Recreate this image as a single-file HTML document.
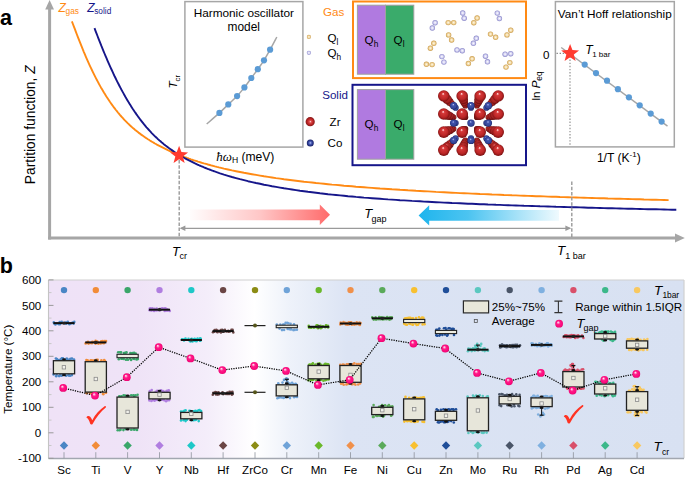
<!DOCTYPE html>
<html><head><meta charset="utf-8"><style>
html,body{margin:0;padding:0;background:#fff;width:685px;height:478px;overflow:hidden}
svg{display:block}
text{font-family:"Liberation Sans", sans-serif}
</style></head><body>
<svg width="685" height="478" viewBox="0 0 685 478" font-family='"Liberation Sans", sans-serif'>
<defs>
<radialGradient id="gRedC" cx="0.5" cy="0.5" r="0.5" fx="0.52" fy="0.5">
  <stop offset="0" stop-color="#ffe4e4"/><stop offset="0.22" stop-color="#e05252"/><stop offset="0.55" stop-color="#c42a2a"/><stop offset="1" stop-color="#861616"/>
</radialGradient>
<radialGradient id="gBlueC" cx="0.5" cy="0.5" r="0.5" fx="0.5" fy="0.5">
  <stop offset="0" stop-color="#c0ccff"/><stop offset="0.3" stop-color="#5a6cc0"/><stop offset="0.65" stop-color="#2c3c94"/><stop offset="1" stop-color="#1a2266"/>
</radialGradient>
<radialGradient id="gPink" cx="0.5" cy="0.5" r="0.55" fx="0.36" fy="0.3">
  <stop offset="0" stop-color="#ffffff"/><stop offset="0.14" stop-color="#ffb2d6"/><stop offset="0.4" stop-color="#ff1c8a"/><stop offset="0.8" stop-color="#fa087a"/><stop offset="1" stop-color="#dc006a"/>
</radialGradient>
<radialGradient id="gRed" cx="0.5" cy="0.5" r="0.55" fx="0.44" fy="0.3">
  <stop offset="0" stop-color="#ffffff"/><stop offset="0.1" stop-color="#f4a0a0"/><stop offset="0.22" stop-color="#d43838"/><stop offset="0.65" stop-color="#bc2626"/><stop offset="1" stop-color="#6a0c0c"/>
</radialGradient>
<radialGradient id="gRedD" cx="0.5" cy="0.5" r="0.55" fx="0.44" fy="0.3">
  <stop offset="0" stop-color="#e07070"/><stop offset="0.3" stop-color="#b82a2a"/><stop offset="0.7" stop-color="#a02020"/><stop offset="1" stop-color="#5a0a0a"/>
</radialGradient>
<radialGradient id="gBlue" cx="0.5" cy="0.5" r="0.55" fx="0.44" fy="0.32">
  <stop offset="0" stop-color="#f0f4ff"/><stop offset="0.12" stop-color="#8090d8"/><stop offset="0.3" stop-color="#4052a8"/><stop offset="0.7" stop-color="#34469c"/><stop offset="1" stop-color="#161e56"/>
</radialGradient>
<radialGradient id="gTan" cx="0.5" cy="0.5" r="0.5">
  <stop offset="0" stop-color="#fffbef"/><stop offset="0.55" stop-color="#f0d49a"/><stop offset="1" stop-color="#c99a4a"/>
</radialGradient>
<radialGradient id="gLav" cx="0.5" cy="0.5" r="0.5">
  <stop offset="0" stop-color="#ffffff"/><stop offset="0.55" stop-color="#cfcdf0"/><stop offset="1" stop-color="#8684c6"/>
</radialGradient>
<linearGradient id="gArrR" x1="190" y1="0" x2="330" y2="0" gradientUnits="userSpaceOnUse">
  <stop offset="0" stop-color="#ff6b6b" stop-opacity="0.02"/><stop offset="0.5" stop-color="#ff6b6b" stop-opacity="0.38"/><stop offset="1" stop-color="#ff6b6b"/>
</linearGradient>
<linearGradient id="gArrB" x1="419" y1="0" x2="559" y2="0" gradientUnits="userSpaceOnUse">
  <stop offset="0" stop-color="#1fb5ed"/><stop offset="0.35" stop-color="#1fb5ed" stop-opacity="0.8"/><stop offset="0.7" stop-color="#1fb5ed" stop-opacity="0.4"/><stop offset="1" stop-color="#1fb5ed" stop-opacity="0.07"/>
</linearGradient>
<linearGradient id="gBg" x1="48" y1="0" x2="684" y2="0" gradientUnits="userSpaceOnUse">
  <stop offset="0" stop-color="#efe2f7"/>
  <stop offset="0.14" stop-color="#efe3f7"/>
  <stop offset="0.25" stop-color="#f4edfa"/>
  <stop offset="0.325" stop-color="#ffffff"/>
  <stop offset="0.38" stop-color="#eef2fa"/>
  <stop offset="0.47" stop-color="#dce4f4"/>
  <stop offset="1" stop-color="#d8e1f2"/>
</linearGradient>
</defs>
<text x="0" y="25.2" font-size="21.5" font-weight="bold" fill="#000">a</text>
<line x1="49.6" y1="239.5" x2="49.6" y2="8" stroke="#a6a6a6" stroke-width="3"/>
<polygon points="45.2,9.5 54,9.5 49.6,0" fill="#a6a6a6"/>
<line x1="48.1" y1="238" x2="676" y2="238" stroke="#a6a6a6" stroke-width="3"/>
<polygon points="675,233.4 675,242.6 684.8,238" fill="#a6a6a6"/>
<text transform="translate(35,124.8) rotate(-90)" text-anchor="middle" font-size="13.8" fill="#000">Partition function, <tspan font-style="italic">Z</tspan></text>
<path d="M71.9,21.3 L72.9,24.0 L73.9,26.6 L74.9,29.2 L75.9,31.9 L76.9,34.5 L77.9,37.1 L78.9,39.7 L79.9,42.2 L80.9,44.7 L81.9,47.2 L82.9,49.6 L83.9,52.1 L84.9,54.4 L85.9,56.8 L86.9,59.1 L87.9,61.4 L88.9,63.6 L89.9,65.8 L90.9,67.9 L91.9,70.0 L92.9,72.1 L93.9,74.2 L94.9,76.2 L95.9,78.1 L96.9,80.0 L97.9,81.9 L98.9,83.8 L99.9,85.6 L100.9,87.4 L101.9,89.1 L102.9,90.8 L103.9,92.5 L104.9,94.1 L105.9,95.7 L106.9,97.3 L107.9,98.8 L108.9,100.3 L109.9,101.8 L110.9,103.2 L111.9,104.6 L112.9,106.0 L113.9,107.4 L114.9,108.7 L115.9,110.0 L116.9,111.2 L117.9,112.5 L118.9,113.7 L119.9,114.9 L120.9,116.0 L121.9,117.1 L122.9,118.2 L123.9,119.3 L124.9,120.4 L125.9,121.4 L126.9,122.4 L127.9,123.4 L128.9,124.3 L129.9,125.3 L130.9,126.2 L131.9,127.1 L132.9,128.0 L133.9,128.8 L134.9,129.7 L135.9,130.5 L136.9,131.3 L137.9,132.1 L138.9,132.9 L139.9,133.6 L140.9,134.4 L141.9,135.1 L142.9,135.8 L143.9,136.5 L144.9,137.2 L145.9,137.9 L146.9,138.5 L147.9,139.2 L148.9,139.8 L149.9,140.5 L150.9,141.1 L151.9,141.7 L152.9,142.3 L153.9,142.9 L154.9,143.5 L155.9,144.0 L156.9,144.6 L157.9,145.1 L158.9,145.7 L159.9,146.2 L160.9,146.7 L161.9,147.2 L162.9,147.7 L163.9,148.2 L164.9,148.7 L165.9,149.2 L166.9,149.7 L167.9,150.2 L168.9,150.6 L169.9,151.1 L170.9,151.5 L171.9,152.0 L172.9,152.4 L173.9,152.8 L174.9,153.3 L175.9,153.7 L176.9,154.1 L177.9,154.5 L178.9,154.9 L179.9,155.3 L180.9,155.7 L181.9,156.0 L182.9,156.4 L183.9,156.8 L184.9,157.2 L185.9,157.5 L186.9,157.9 L187.9,158.2 L188.9,158.6 L189.9,158.9 L190.9,159.3 L191.9,159.6 L192.9,160.0 L193.9,160.3 L194.9,160.6 L195.9,160.9 L196.9,161.2 L197.9,161.6 L198.9,161.9 L199.9,162.2 L200.9,162.5 L201.9,162.8 L202.9,163.1 L203.9,163.4 L204.9,163.6 L205.9,163.9 L206.9,164.2 L207.9,164.5 L208.9,164.8 L209.9,165.0 L210.9,165.3 L211.9,165.6 L212.9,165.8 L213.9,166.1 L214.9,166.4 L215.9,166.6 L216.9,166.9 L217.9,167.1 L218.9,167.4 L219.9,167.6 L220.0,167.6 L224.0,168.6 L228.0,169.5 L232.0,170.4 L236.0,171.2 L240.0,172.0 L244.0,172.8 L248.0,173.5 L252.0,174.2 L256.0,174.9 L260.0,175.6 L264.0,176.3 L268.0,176.9 L272.0,177.5 L276.0,178.1 L280.0,178.6 L284.0,179.2 L288.0,179.7 L292.0,180.2 L296.0,180.7 L300.0,181.2 L304.0,181.7 L308.0,182.1 L312.0,182.5 L316.0,183.0 L320.0,183.4 L324.0,183.8 L328.0,184.2 L332.0,184.6 L336.0,184.9 L340.0,185.3 L344.0,185.7 L348.0,186.0 L352.0,186.3 L356.0,186.7 L360.0,187.0 L364.0,187.3 L368.0,187.6 L372.0,187.9 L376.0,188.2 L380.0,188.5 L384.0,188.7 L388.0,189.0 L392.0,189.3 L396.0,189.5 L400.0,189.8 L404.0,190.0 L408.0,190.3 L412.0,190.5 L416.0,190.8 L420.0,191.0 L424.0,191.2 L428.0,191.4 L432.0,191.6 L436.0,191.9 L440.0,192.1 L444.0,192.3 L448.0,192.5 L452.0,192.7 L456.0,192.9 L460.0,193.1 L464.0,193.2 L468.0,193.4 L472.0,193.6 L476.0,193.8 L480.0,194.0 L484.0,194.1 L488.0,194.3 L492.0,194.5 L496.0,194.6 L500.0,194.8 L504.0,195.0 L508.0,195.1 L512.0,195.3 L516.0,195.4 L520.0,195.6 L524.0,195.7 L528.0,195.9 L532.0,196.0 L536.0,196.2 L540.0,196.3 L544.0,196.4 L548.0,196.6 L552.0,196.7 L556.0,196.8 L560.0,197.0 L564.0,197.1 L568.0,197.2 L572.0,197.4 L576.0,197.5 L580.0,197.6 L584.0,197.7 L588.0,197.9 L592.0,198.0 L596.0,198.1 L600.0,198.2 L604.0,198.3 L608.0,198.5 L612.0,198.6 L616.0,198.7 L620.0,198.8 L624.0,198.9 L628.0,199.0 L632.0,199.1 L636.0,199.2 L640.0,199.3 L644.0,199.5 L648.0,199.6 L652.0,199.7 L656.0,199.8 L660.0,199.9 L664.0,200.0 L668.0,200.1 L668.6,200.1" fill="none" stroke="#ff8a14" stroke-width="1.9" stroke-linejoin="round"/>
<path d="M94.5,28.1 L95.5,30.8 L96.5,33.4 L97.5,36.0 L98.5,38.6 L99.5,41.1 L100.5,43.6 L101.5,46.2 L102.5,48.6 L103.5,51.1 L104.5,53.5 L105.5,55.9 L106.5,58.2 L107.5,60.6 L108.5,62.9 L109.5,65.1 L110.5,67.3 L111.5,69.5 L112.5,71.7 L113.5,73.8 L114.5,76.0 L115.5,78.0 L116.5,80.1 L117.5,82.1 L118.5,84.0 L119.5,86.0 L120.5,87.9 L121.5,89.8 L122.5,91.6 L123.5,93.4 L124.5,95.2 L125.5,97.0 L126.5,98.7 L127.5,100.4 L128.5,102.1 L129.5,103.7 L130.5,105.3 L131.5,106.9 L132.5,108.5 L133.5,110.0 L134.5,111.5 L135.5,112.9 L136.5,114.4 L137.5,115.8 L138.5,117.2 L139.5,118.5 L140.5,119.8 L141.5,121.1 L142.5,122.4 L143.5,123.7 L144.5,124.9 L145.5,126.1 L146.5,127.3 L147.5,128.4 L148.5,129.5 L149.5,130.6 L150.5,131.7 L151.5,132.8 L152.5,133.8 L153.5,134.8 L154.5,135.8 L155.5,136.8 L156.5,137.7 L157.5,138.7 L158.5,139.6 L159.5,140.5 L160.5,141.3 L161.5,142.2 L162.5,143.0 L163.5,143.9 L164.5,144.7 L165.5,145.5 L166.5,146.2 L167.5,147.0 L168.5,147.8 L169.5,148.5 L170.5,149.2 L171.5,149.9 L172.5,150.6 L173.5,151.3 L174.5,152.0 L175.5,152.6 L176.5,153.3 L177.5,153.9 L178.5,154.5 L179.5,155.1 L180.5,155.7 L181.5,156.3 L182.5,156.9 L183.5,157.5 L184.5,158.0 L185.5,158.6 L186.5,159.1 L187.5,159.7 L188.5,160.2 L189.5,160.7 L190.5,161.2 L191.5,161.7 L192.5,162.2 L193.5,162.7 L194.5,163.2 L195.5,163.6 L196.5,164.1 L197.5,164.6 L198.5,165.0 L199.5,165.5 L200.5,165.9 L201.5,166.3 L202.5,166.7 L203.5,167.2 L204.5,167.6 L205.5,168.0 L206.5,168.4 L207.5,168.8 L208.5,169.2 L209.5,169.5 L210.5,169.9 L211.5,170.3 L212.5,170.7 L213.5,171.0 L214.5,171.4 L215.5,171.7 L216.5,172.1 L217.5,172.4 L218.5,172.8 L219.5,173.1 L220.0,173.3 L224.0,174.6 L228.0,175.8 L232.0,177.0 L236.0,178.1 L240.0,179.2 L244.0,180.2 L248.0,181.2 L252.0,182.1 L256.0,183.0 L260.0,183.8 L264.0,184.7 L268.0,185.4 L272.0,186.2 L276.0,186.9 L280.0,187.6 L284.0,188.3 L288.0,188.9 L292.0,189.5 L296.0,190.1 L300.0,190.7 L304.0,191.2 L308.0,191.8 L312.0,192.3 L316.0,192.8 L320.0,193.3 L324.0,193.7 L328.0,194.2 L332.0,194.6 L336.0,195.0 L340.0,195.4 L344.0,195.8 L348.0,196.2 L352.0,196.5 L356.0,196.9 L360.0,197.2 L364.0,197.6 L368.0,197.9 L372.0,198.2 L376.0,198.5 L380.0,198.8 L384.0,199.1 L388.0,199.4 L392.0,199.6 L396.0,199.9 L400.0,200.2 L404.0,200.4 L408.0,200.6 L412.0,200.9 L416.0,201.1 L420.0,201.3 L424.0,201.6 L428.0,201.8 L432.0,202.0 L436.0,202.2 L440.0,202.4 L444.0,202.6 L448.0,202.8 L452.0,203.0 L456.0,203.1 L460.0,203.3 L464.0,203.5 L468.0,203.7 L472.0,203.8 L476.0,204.0 L480.0,204.2 L484.0,204.3 L488.0,204.5 L492.0,204.6 L496.0,204.8 L500.0,204.9 L504.0,205.1 L508.0,205.2 L512.0,205.4 L516.0,205.5 L520.0,205.6 L524.0,205.8 L528.0,205.9 L532.0,206.0 L536.0,206.1 L540.0,206.3 L544.0,206.4 L548.0,206.5 L552.0,206.6 L556.0,206.8 L560.0,206.9 L564.0,207.0 L568.0,207.1 L572.0,207.2 L576.0,207.3 L580.0,207.4 L584.0,207.5 L588.0,207.7 L592.0,207.8 L596.0,207.9 L600.0,208.0 L604.0,208.1 L608.0,208.2 L612.0,208.3 L616.0,208.4 L620.0,208.5 L624.0,208.6 L628.0,208.7 L632.0,208.8 L636.0,208.9 L640.0,209.0 L644.0,209.1 L648.0,209.2 L652.0,209.3 L656.0,209.3 L660.0,209.4 L664.0,209.5 L668.0,209.6 L672.0,209.7 L676.0,209.8 L676.3,209.8" fill="none" stroke="#16168a" stroke-width="1.9" stroke-linejoin="round"/>
<text x="58.6" y="11.8" font-size="12" font-style="italic" fill="#ff8a14">Z</text><text x="65.6" y="14.4" font-size="8.3" fill="#ff8a14">gas</text>
<text x="87.2" y="11.8" font-size="12" font-style="italic" fill="#16168a">Z</text><text x="94.2" y="14.4" font-size="8.3" fill="#16168a">solid</text>
<line x1="179.2" y1="160" x2="179.2" y2="237" stroke="#999" stroke-width="1.4" stroke-dasharray="3.5,1.7"/>
<line x1="571.8" y1="181.5" x2="571.8" y2="237" stroke="#999" stroke-width="1.4" stroke-dasharray="3.5,1.7"/>
<polygon points="179.10,145.85 181.43,152.09 188.09,152.38 182.87,156.53 184.66,162.95 179.10,159.27 173.54,162.95 175.33,156.53 170.11,152.38 176.77,152.09" fill="#ff3b30"/>
<polygon points="190,209.4 319.8,209.4 319.8,204.5 330,214.8 319.8,225 319.8,220.2 190,220.2" fill="url(#gArrR)"/>
<polygon points="559,210 429.2,210 429.2,205.2 418.6,215.4 429.2,225.6 429.2,220.8 559,220.8" fill="url(#gArrB)"/>
<line x1="181" y1="228.3" x2="570" y2="228.3" stroke="#9a9a9a" stroke-width="1.3"/>
<polygon points="179.6,228.3 185.4,225.5 185.4,231.1" fill="#9a9a9a"/>
<polygon points="571.2,228.3 565.4,225.5 565.4,231.1" fill="#9a9a9a"/>
<text x="364.3" y="218.2" font-size="13" font-style="italic">T</text><text x="371.6" y="221.6" font-size="9">gap</text>
<text x="172" y="255.7" font-size="13" font-style="italic">T</text><text x="179.4" y="259.4" font-size="9">cr</text>
<text x="556.9" y="255.3" font-size="13.4" font-style="italic">T</text><text x="565.2" y="259" font-size="9">1 bar</text>
<rect x="184.9" y="1.6" width="118" height="145.5" fill="#fff" stroke="#a6a6a6" stroke-width="1.5"/>
<text x="243.8" y="17.4" font-size="11.8" text-anchor="middle">Harmonic oscillator</text>
<text x="243.8" y="31.2" font-size="11.9" text-anchor="middle">model</text>
<path d="M206.70,124.00 C208.82,122.15 215.80,116.17 219.40,112.90 C223.00,109.63 225.35,107.20 228.30,104.40 C231.25,101.60 234.42,98.93 237.10,96.10 C239.78,93.27 242.03,90.42 244.40,87.40 C246.77,84.38 249.07,81.03 251.30,78.00 C253.53,74.97 255.68,72.15 257.80,69.20 C259.92,66.25 261.95,63.55 264.00,60.30 C266.05,57.05 267.97,53.58 270.10,49.70 C272.23,45.82 275.68,39.12 276.80,37.00" fill="none" stroke="#a6a6a6" stroke-width="1.5"/>
<circle cx="219.4" cy="112.9" r="3.1" fill="#5b9bd5"/>
<circle cx="228.3" cy="104.4" r="3.1" fill="#5b9bd5"/>
<circle cx="237.1" cy="96.1" r="3.1" fill="#5b9bd5"/>
<circle cx="244.4" cy="87.4" r="3.1" fill="#5b9bd5"/>
<circle cx="251.3" cy="78" r="3.1" fill="#5b9bd5"/>
<circle cx="257.8" cy="69.2" r="3.1" fill="#5b9bd5"/>
<circle cx="264" cy="60.3" r="3.1" fill="#5b9bd5"/>
<circle cx="270.1" cy="49.7" r="3.1" fill="#5b9bd5"/>
<text transform="translate(176.5,88.6) rotate(-90)" font-size="11.8"><tspan font-style="italic">T</tspan><tspan font-size="7.8" dy="3.3">cr</tspan></text>
<text x="216.2" y="160.5" font-size="12.1"><tspan font-family="Liberation Serif" font-style="italic" font-size="13">ħω</tspan><tspan font-size="8.6" dy="2.8">H</tspan><tspan dy="-2.8"> (meV)</tspan></text>
<text x="323.1" y="15.9" font-size="11.6" fill="#ff8a14">Gas</text>
<circle cx="308.9" cy="36.9" r="2.1" fill="url(#gTan)"/>
<circle cx="308.9" cy="52.8" r="2.1" fill="url(#gLav)"/>
<text x="327.4" y="41.9" font-size="11.6">Q<tspan font-size="8.3" dy="2.6">l</tspan></text>
<text x="327.4" y="57" font-size="11.6">Q<tspan font-size="8.3" dy="2.6">h</tspan></text>
<text x="322.2" y="99" font-size="11.6" fill="#16168a">Solid</text>
<circle cx="310.2" cy="121.7" r="4.6" fill="url(#gRedC)"/>
<circle cx="310.3" cy="142.9" r="3.5" fill="url(#gBlueC)"/>
<text x="329.6" y="125.7" font-size="11.6">Zr</text>
<text x="327.6" y="147" font-size="11.6">Co</text>
<rect x="353" y="1.5" width="173" height="76.6" fill="#fff" stroke="#ff8a14" stroke-width="2"/>
<rect x="357.4" y="5.2" width="28.1" height="69.0" fill="#b07ae0" stroke="#a0a0a0" stroke-width="1"/>
<rect x="385.5" y="5.2" width="28.3" height="69.0" fill="#3aab6b" stroke="#a0a0a0" stroke-width="1"/>
<text x="364.6" y="44.2" font-size="11.6">Q<tspan font-size="8.3" dy="2.6">h</tspan></text>
<text x="393.6" y="44.2" font-size="11.6">Q<tspan font-size="8.3" dy="2.6">l</tspan></text>
<circle cx="435.1" cy="22.7" r="2.7" fill="url(#gLav)"/>
<circle cx="432.3" cy="28" r="2.7" fill="url(#gLav)"/>
<circle cx="462.7" cy="13" r="2.7" fill="url(#gLav)"/>
<circle cx="464.2" cy="18.2" r="2.7" fill="url(#gLav)"/>
<circle cx="497.3" cy="13.1" r="2.7" fill="url(#gLav)"/>
<circle cx="499.4" cy="18.5" r="2.7" fill="url(#gLav)"/>
<circle cx="476.3" cy="38.3" r="2.7" fill="url(#gLav)"/>
<circle cx="473.4" cy="43.3" r="2.7" fill="url(#gLav)"/>
<circle cx="457" cy="49.9" r="2.7" fill="url(#gLav)"/>
<circle cx="462.3" cy="50.7" r="2.7" fill="url(#gLav)"/>
<circle cx="441.9" cy="56.6" r="2.7" fill="url(#gLav)"/>
<circle cx="443.9" cy="62.1" r="2.7" fill="url(#gLav)"/>
<circle cx="485.5" cy="56.2" r="2.7" fill="url(#gLav)"/>
<circle cx="487.5" cy="61.8" r="2.7" fill="url(#gLav)"/>
<circle cx="505.1" cy="54.2" r="2.7" fill="url(#gLav)"/>
<circle cx="510.7" cy="53.7" r="2.7" fill="url(#gLav)"/>
<circle cx="448.2" cy="22.6" r="2.7" fill="url(#gTan)"/>
<circle cx="453.7" cy="22.6" r="2.7" fill="url(#gTan)"/>
<circle cx="477.1" cy="18" r="2.7" fill="url(#gTan)"/>
<circle cx="473.8" cy="22.7" r="2.7" fill="url(#gTan)"/>
<circle cx="448.6" cy="34.9" r="2.7" fill="url(#gTan)"/>
<circle cx="451.6" cy="40" r="2.7" fill="url(#gTan)"/>
<circle cx="433.8" cy="43.3" r="2.7" fill="url(#gTan)"/>
<circle cx="430.4" cy="48.2" r="2.7" fill="url(#gTan)"/>
<circle cx="490.5" cy="34.1" r="2.7" fill="url(#gTan)"/>
<circle cx="495.6" cy="37.3" r="2.7" fill="url(#gTan)"/>
<circle cx="510.7" cy="30.2" r="2.7" fill="url(#gTan)"/>
<circle cx="507" cy="34.9" r="2.7" fill="url(#gTan)"/>
<circle cx="426.4" cy="64.3" r="2.7" fill="url(#gTan)"/>
<circle cx="432.1" cy="64.6" r="2.7" fill="url(#gTan)"/>
<circle cx="472.1" cy="58.8" r="2.7" fill="url(#gTan)"/>
<circle cx="468.4" cy="63.5" r="2.7" fill="url(#gTan)"/>
<circle cx="509.8" cy="62.6" r="2.7" fill="url(#gTan)"/>
<circle cx="506" cy="67.1" r="2.7" fill="url(#gTan)"/>
<rect x="352.5" y="84.8" width="173.5" height="80.4" fill="#fff" stroke="#16168a" stroke-width="2"/>
<rect x="357.4" y="89.6" width="28.1" height="69.6" fill="#b07ae0" stroke="#a0a0a0" stroke-width="1"/>
<rect x="385.5" y="89.6" width="28.3" height="69.6" fill="#3aab6b" stroke="#a0a0a0" stroke-width="1"/>
<text x="364.6" y="127.9" font-size="11.6">Q<tspan font-size="8.3" dy="2.6">h</tspan></text>
<text x="393.6" y="127.9" font-size="11.6">Q<tspan font-size="8.3" dy="2.6">l</tspan></text>
<circle cx="453.56" cy="105.73" r="2.85" fill="url(#gRedD)"/>
<circle cx="465.36" cy="105.73" r="2.85" fill="url(#gRedD)"/>
<circle cx="476.90" cy="105.73" r="2.85" fill="url(#gRedD)"/>
<circle cx="488.44" cy="105.73" r="2.85" fill="url(#gRedD)"/>
<circle cx="453.56" cy="117.27" r="2.85" fill="url(#gRedD)"/>
<circle cx="465.36" cy="117.27" r="2.85" fill="url(#gRedD)"/>
<circle cx="476.90" cy="117.27" r="2.85" fill="url(#gRedD)"/>
<circle cx="488.44" cy="117.27" r="2.85" fill="url(#gRedD)"/>
<circle cx="453.56" cy="128.87" r="2.85" fill="url(#gRedD)"/>
<circle cx="465.36" cy="128.87" r="2.85" fill="url(#gRedD)"/>
<circle cx="476.90" cy="128.87" r="2.85" fill="url(#gRedD)"/>
<circle cx="488.44" cy="128.87" r="2.85" fill="url(#gRedD)"/>
<circle cx="453.56" cy="140.41" r="2.85" fill="url(#gRedD)"/>
<circle cx="465.36" cy="140.41" r="2.85" fill="url(#gRedD)"/>
<circle cx="476.90" cy="140.41" r="2.85" fill="url(#gRedD)"/>
<circle cx="488.44" cy="140.41" r="2.85" fill="url(#gRedD)"/>
<circle cx="451.85" cy="104.02" r="3.31" fill="url(#gRedD)"/>
<circle cx="464.80" cy="104.02" r="3.31" fill="url(#gRedD)"/>
<circle cx="477.48" cy="104.02" r="3.31" fill="url(#gRedD)"/>
<circle cx="490.15" cy="104.02" r="3.31" fill="url(#gRedD)"/>
<circle cx="451.85" cy="116.69" r="3.31" fill="url(#gRedD)"/>
<circle cx="464.80" cy="116.69" r="3.31" fill="url(#gRedD)"/>
<circle cx="477.48" cy="116.69" r="3.31" fill="url(#gRedD)"/>
<circle cx="490.15" cy="116.69" r="3.31" fill="url(#gRedD)"/>
<circle cx="451.85" cy="129.44" r="3.31" fill="url(#gRedD)"/>
<circle cx="464.80" cy="129.44" r="3.31" fill="url(#gRedD)"/>
<circle cx="477.48" cy="129.44" r="3.31" fill="url(#gRedD)"/>
<circle cx="490.15" cy="129.44" r="3.31" fill="url(#gRedD)"/>
<circle cx="451.85" cy="142.11" r="3.31" fill="url(#gRedD)"/>
<circle cx="464.80" cy="142.11" r="3.31" fill="url(#gRedD)"/>
<circle cx="477.48" cy="142.11" r="3.31" fill="url(#gRedD)"/>
<circle cx="490.15" cy="142.11" r="3.31" fill="url(#gRedD)"/>
<circle cx="449.75" cy="101.93" r="3.91" fill="url(#gRedD)"/>
<circle cx="464.12" cy="101.93" r="3.91" fill="url(#gRedD)"/>
<circle cx="478.19" cy="101.93" r="3.91" fill="url(#gRedD)"/>
<circle cx="492.25" cy="101.93" r="3.91" fill="url(#gRedD)"/>
<circle cx="449.75" cy="115.99" r="3.91" fill="url(#gRedD)"/>
<circle cx="464.12" cy="115.99" r="3.91" fill="url(#gRedD)"/>
<circle cx="478.19" cy="115.99" r="3.91" fill="url(#gRedD)"/>
<circle cx="492.25" cy="115.99" r="3.91" fill="url(#gRedD)"/>
<circle cx="449.75" cy="130.13" r="3.91" fill="url(#gRedD)"/>
<circle cx="464.12" cy="130.13" r="3.91" fill="url(#gRedD)"/>
<circle cx="478.19" cy="130.13" r="3.91" fill="url(#gRedD)"/>
<circle cx="492.25" cy="130.13" r="3.91" fill="url(#gRedD)"/>
<circle cx="449.75" cy="144.19" r="3.91" fill="url(#gRedD)"/>
<circle cx="464.12" cy="144.19" r="3.91" fill="url(#gRedD)"/>
<circle cx="478.19" cy="144.19" r="3.91" fill="url(#gRedD)"/>
<circle cx="492.25" cy="144.19" r="3.91" fill="url(#gRedD)"/>
<circle cx="455.64" cy="107.78" r="3.08" fill="url(#gBlue)"/>
<circle cx="471.00" cy="107.78" r="3.08" fill="url(#gBlue)"/>
<circle cx="486.36" cy="107.78" r="3.08" fill="url(#gBlue)"/>
<circle cx="455.64" cy="123.10" r="3.08" fill="url(#gBlue)"/>
<circle cx="471.00" cy="123.10" r="3.08" fill="url(#gBlue)"/>
<circle cx="486.36" cy="123.10" r="3.08" fill="url(#gBlue)"/>
<circle cx="455.64" cy="138.42" r="3.08" fill="url(#gBlue)"/>
<circle cx="471.00" cy="138.42" r="3.08" fill="url(#gBlue)"/>
<circle cx="486.36" cy="138.42" r="3.08" fill="url(#gBlue)"/>
<circle cx="447.14" cy="99.33" r="4.70" fill="url(#gRedD)"/>
<circle cx="463.28" cy="99.33" r="4.70" fill="url(#gRedD)"/>
<circle cx="479.07" cy="99.33" r="4.70" fill="url(#gRedD)"/>
<circle cx="494.86" cy="99.33" r="4.70" fill="url(#gRedD)"/>
<circle cx="447.14" cy="115.12" r="4.70" fill="url(#gRedD)"/>
<circle cx="463.28" cy="115.12" r="4.70" fill="url(#gRedD)"/>
<circle cx="479.07" cy="115.12" r="4.70" fill="url(#gRedD)"/>
<circle cx="494.86" cy="115.12" r="4.70" fill="url(#gRedD)"/>
<circle cx="447.14" cy="130.99" r="4.70" fill="url(#gRedD)"/>
<circle cx="463.28" cy="130.99" r="4.70" fill="url(#gRedD)"/>
<circle cx="479.07" cy="130.99" r="4.70" fill="url(#gRedD)"/>
<circle cx="494.86" cy="130.99" r="4.70" fill="url(#gRedD)"/>
<circle cx="447.14" cy="146.78" r="4.70" fill="url(#gRedD)"/>
<circle cx="463.28" cy="146.78" r="4.70" fill="url(#gRedD)"/>
<circle cx="479.07" cy="146.78" r="4.70" fill="url(#gRedD)"/>
<circle cx="494.86" cy="146.78" r="4.70" fill="url(#gRedD)"/>
<circle cx="453.63" cy="105.78" r="3.70" fill="url(#gBlue)"/>
<circle cx="471.00" cy="105.78" r="3.70" fill="url(#gBlue)"/>
<circle cx="488.37" cy="105.78" r="3.70" fill="url(#gBlue)"/>
<circle cx="453.63" cy="123.10" r="3.70" fill="url(#gBlue)"/>
<circle cx="471.00" cy="123.10" r="3.70" fill="url(#gBlue)"/>
<circle cx="488.37" cy="123.10" r="3.70" fill="url(#gBlue)"/>
<circle cx="453.63" cy="140.42" r="3.70" fill="url(#gBlue)"/>
<circle cx="471.00" cy="140.42" r="3.70" fill="url(#gBlue)"/>
<circle cx="488.37" cy="140.42" r="3.70" fill="url(#gBlue)"/>
<circle cx="443.80" cy="96.00" r="5.80" fill="url(#gRed)"/>
<circle cx="462.20" cy="96.00" r="5.80" fill="url(#gRed)"/>
<circle cx="480.20" cy="96.00" r="5.80" fill="url(#gRed)"/>
<circle cx="498.20" cy="96.00" r="5.80" fill="url(#gRed)"/>
<circle cx="443.80" cy="114.00" r="5.80" fill="url(#gRed)"/>
<circle cx="462.20" cy="114.00" r="5.80" fill="url(#gRed)"/>
<circle cx="480.20" cy="114.00" r="5.80" fill="url(#gRed)"/>
<circle cx="498.20" cy="114.00" r="5.80" fill="url(#gRed)"/>
<circle cx="443.80" cy="132.10" r="5.80" fill="url(#gRed)"/>
<circle cx="462.20" cy="132.10" r="5.80" fill="url(#gRed)"/>
<circle cx="480.20" cy="132.10" r="5.80" fill="url(#gRed)"/>
<circle cx="498.20" cy="132.10" r="5.80" fill="url(#gRed)"/>
<circle cx="443.80" cy="150.10" r="5.80" fill="url(#gRed)"/>
<circle cx="462.20" cy="150.10" r="5.80" fill="url(#gRed)"/>
<circle cx="480.20" cy="150.10" r="5.80" fill="url(#gRed)"/>
<circle cx="498.20" cy="150.10" r="5.80" fill="url(#gRed)"/>
<rect x="555.4" y="1.6" width="118.9" height="145.3" fill="#fff" stroke="#a6a6a6" stroke-width="1.5"/>
<text x="614.8" y="17.7" font-size="11.76" text-anchor="middle">Van’t Hoff relationship</text>
<text x="543" y="58.8" font-size="11.6">0</text>
<line x1="556.5" y1="53.4" x2="570" y2="53.4" stroke="#888" stroke-width="1.1" stroke-dasharray="1.4,1.7"/>
<line x1="570" y1="53.4" x2="570" y2="146" stroke="#888" stroke-width="1.1" stroke-dasharray="1.4,1.7"/>
<line x1="561.2" y1="47.5" x2="667.5" y2="126.2" stroke="#a6a6a6" stroke-width="1.5"/>
<circle cx="584.7" cy="64.6" r="3.1" fill="#5b9bd5"/>
<circle cx="596" cy="73.1" r="3.1" fill="#5b9bd5"/>
<circle cx="607" cy="80.7" r="3.1" fill="#5b9bd5"/>
<circle cx="617.9" cy="89.2" r="3.1" fill="#5b9bd5"/>
<circle cx="628.9" cy="97.3" r="3.1" fill="#5b9bd5"/>
<circle cx="639.7" cy="105.3" r="3.1" fill="#5b9bd5"/>
<circle cx="650.7" cy="113.6" r="3.1" fill="#5b9bd5"/>
<circle cx="661.6" cy="121.6" r="3.1" fill="#5b9bd5"/>
<polygon points="570.10,43.90 572.42,50.10 579.04,50.40 573.85,54.52 575.63,60.90 570.10,57.25 564.57,60.90 566.35,54.52 561.16,50.40 567.78,50.10" fill="#ff3b30"/>
<text x="585.2" y="54.3" font-size="12.2" font-style="italic">T</text><text x="592.2" y="56.8" font-size="8">1 bar</text>
<text transform="translate(539.6,86) rotate(-90)" font-size="11.6" text-anchor="middle">ln <tspan font-style="italic">P</tspan><tspan font-size="8.3" dy="2.6">eq</tspan></text>
<text x="596.9" y="161.9" font-size="12.1">1/T (K<tspan font-size="7.9" dy="-4.6">-1</tspan><tspan dy="4.6">)</tspan></text>
<text x="-0.2" y="272.8" font-size="21.5" font-weight="bold">b</text>
<rect x="48.5" y="280" width="635.5" height="178.2" fill="url(#gBg)"/>
<line x1="48.5" y1="280" x2="684" y2="280" stroke="#d0d0d0" stroke-width="1.2"/>
<line x1="684" y1="280" x2="684" y2="458.2" stroke="#d0d0d0" stroke-width="1.2"/>
<line x1="48.5" y1="280" x2="48.5" y2="458.2" stroke="#c4c4c4" stroke-width="1.1"/>
<line x1="48.5" y1="458.5" x2="684" y2="458.5" stroke="#a2a7b0" stroke-width="1.3"/>
<line x1="48.5" y1="458.3" x2="53.5" y2="458.3" stroke="#9a9a9a" stroke-width="1"/>
<text x="41.3" y="462.4" font-size="11.6" text-anchor="end">-100</text>
<line x1="48.5" y1="432.8" x2="53.5" y2="432.8" stroke="#9a9a9a" stroke-width="1"/>
<text x="41.3" y="436.9" font-size="11.6" text-anchor="end">0</text>
<line x1="48.5" y1="407.3" x2="53.5" y2="407.3" stroke="#9a9a9a" stroke-width="1"/>
<text x="41.3" y="411.4" font-size="11.6" text-anchor="end">100</text>
<line x1="48.5" y1="381.8" x2="53.5" y2="381.8" stroke="#9a9a9a" stroke-width="1"/>
<text x="41.3" y="385.9" font-size="11.6" text-anchor="end">200</text>
<line x1="48.5" y1="356.3" x2="53.5" y2="356.3" stroke="#9a9a9a" stroke-width="1"/>
<text x="41.3" y="360.4" font-size="11.6" text-anchor="end">300</text>
<line x1="48.5" y1="330.8" x2="53.5" y2="330.8" stroke="#9a9a9a" stroke-width="1"/>
<text x="41.3" y="334.9" font-size="11.6" text-anchor="end">400</text>
<line x1="48.5" y1="305.4" x2="53.5" y2="305.4" stroke="#9a9a9a" stroke-width="1"/>
<text x="41.3" y="309.5" font-size="11.6" text-anchor="end">500</text>
<line x1="48.5" y1="279.9" x2="53.5" y2="279.9" stroke="#9a9a9a" stroke-width="1"/>
<text x="41.3" y="284.0" font-size="11.6" text-anchor="end">600</text>
<line x1="48.5" y1="445.5" x2="51.5" y2="445.5" stroke="#c8c8c8" stroke-width="1"/>
<line x1="48.5" y1="420.1" x2="51.5" y2="420.1" stroke="#c8c8c8" stroke-width="1"/>
<line x1="48.5" y1="394.6" x2="51.5" y2="394.6" stroke="#c8c8c8" stroke-width="1"/>
<line x1="48.5" y1="369.1" x2="51.5" y2="369.1" stroke="#c8c8c8" stroke-width="1"/>
<line x1="48.5" y1="343.6" x2="51.5" y2="343.6" stroke="#c8c8c8" stroke-width="1"/>
<line x1="48.5" y1="318.1" x2="51.5" y2="318.1" stroke="#c8c8c8" stroke-width="1"/>
<line x1="48.5" y1="292.6" x2="51.5" y2="292.6" stroke="#c8c8c8" stroke-width="1"/>
<text transform="translate(12.2,369.2) rotate(-90)" font-size="11.6" text-anchor="middle">Temperature (°C)</text>
<line x1="64.0" y1="452.2" x2="64.0" y2="458.2" stroke="#8e939c" stroke-width="0.8"/>
<text x="64.0" y="474" font-size="11.6" text-anchor="middle">Sc</text>
<line x1="95.8" y1="452.2" x2="95.8" y2="458.2" stroke="#8e939c" stroke-width="0.8"/>
<text x="95.8" y="474" font-size="11.6" text-anchor="middle">Ti</text>
<line x1="127.6" y1="452.2" x2="127.6" y2="458.2" stroke="#8e939c" stroke-width="0.8"/>
<text x="127.6" y="474" font-size="11.6" text-anchor="middle">V</text>
<line x1="159.5" y1="452.2" x2="159.5" y2="458.2" stroke="#8e939c" stroke-width="0.8"/>
<text x="159.5" y="474" font-size="11.6" text-anchor="middle">Y</text>
<line x1="191.3" y1="452.2" x2="191.3" y2="458.2" stroke="#8e939c" stroke-width="0.8"/>
<text x="191.3" y="474" font-size="11.6" text-anchor="middle">Nb</text>
<line x1="223.1" y1="452.2" x2="223.1" y2="458.2" stroke="#8e939c" stroke-width="0.8"/>
<text x="223.1" y="474" font-size="11.6" text-anchor="middle">Hf</text>
<line x1="255.0" y1="452.2" x2="255.0" y2="458.2" stroke="#8e939c" stroke-width="0.8"/>
<text x="255.0" y="474" font-size="11.6" text-anchor="middle">ZrCo</text>
<line x1="286.8" y1="452.2" x2="286.8" y2="458.2" stroke="#8e939c" stroke-width="0.8"/>
<text x="286.8" y="474" font-size="11.6" text-anchor="middle">Cr</text>
<line x1="318.7" y1="452.2" x2="318.7" y2="458.2" stroke="#8e939c" stroke-width="0.8"/>
<text x="318.7" y="474" font-size="11.6" text-anchor="middle">Mn</text>
<line x1="350.5" y1="452.2" x2="350.5" y2="458.2" stroke="#8e939c" stroke-width="0.8"/>
<text x="350.5" y="474" font-size="11.6" text-anchor="middle">Fe</text>
<line x1="382.3" y1="452.2" x2="382.3" y2="458.2" stroke="#8e939c" stroke-width="0.8"/>
<text x="382.3" y="474" font-size="11.6" text-anchor="middle">Ni</text>
<line x1="414.2" y1="452.2" x2="414.2" y2="458.2" stroke="#8e939c" stroke-width="0.8"/>
<text x="414.2" y="474" font-size="11.6" text-anchor="middle">Cu</text>
<line x1="446.0" y1="452.2" x2="446.0" y2="458.2" stroke="#8e939c" stroke-width="0.8"/>
<text x="446.0" y="474" font-size="11.6" text-anchor="middle">Zn</text>
<line x1="477.9" y1="452.2" x2="477.9" y2="458.2" stroke="#8e939c" stroke-width="0.8"/>
<text x="477.9" y="474" font-size="11.6" text-anchor="middle">Mo</text>
<line x1="509.7" y1="452.2" x2="509.7" y2="458.2" stroke="#8e939c" stroke-width="0.8"/>
<text x="509.7" y="474" font-size="11.6" text-anchor="middle">Ru</text>
<line x1="541.6" y1="452.2" x2="541.6" y2="458.2" stroke="#8e939c" stroke-width="0.8"/>
<text x="541.6" y="474" font-size="11.6" text-anchor="middle">Rh</text>
<line x1="573.4" y1="452.2" x2="573.4" y2="458.2" stroke="#8e939c" stroke-width="0.8"/>
<text x="573.4" y="474" font-size="11.6" text-anchor="middle">Pd</text>
<line x1="605.2" y1="452.2" x2="605.2" y2="458.2" stroke="#8e939c" stroke-width="0.8"/>
<text x="605.2" y="474" font-size="11.6" text-anchor="middle">Ag</text>
<line x1="637.1" y1="452.2" x2="637.1" y2="458.2" stroke="#8e939c" stroke-width="0.8"/>
<text x="637.1" y="474" font-size="11.6" text-anchor="middle">Cd</text>
<circle cx="64.0" cy="290.1" r="3.2" fill="#4a86c5"/>
<polygon points="64.0,441.3 68.2,445.5 64.0,449.7 59.8,445.5" fill="#4a86c5"/>
<circle cx="95.8" cy="290.1" r="3.2" fill="#f28c38"/>
<polygon points="95.8,441.3 100.0,445.5 95.8,449.7 91.6,445.5" fill="#f28c38"/>
<circle cx="127.6" cy="290.1" r="3.2" fill="#3aa66a"/>
<polygon points="127.6,441.3 131.8,445.5 127.6,449.7 123.4,445.5" fill="#3aa66a"/>
<circle cx="159.5" cy="290.1" r="3.2" fill="#b07ee0"/>
<polygon points="159.5,441.3 163.7,445.5 159.5,449.7 155.3,445.5" fill="#b07ee0"/>
<circle cx="191.3" cy="290.1" r="3.2" fill="#1ec8c8"/>
<polygon points="191.3,441.3 195.5,445.5 191.3,449.7 187.1,445.5" fill="#1ec8c8"/>
<circle cx="223.1" cy="290.1" r="3.2" fill="#6b4545"/>
<polygon points="223.1,441.3 227.3,445.5 223.1,449.7 218.9,445.5" fill="#6b4545"/>
<circle cx="255.0" cy="290.1" r="3.2" fill="#8c8c14"/>
<polygon points="255.0,441.3 259.2,445.5 255.0,449.7 250.8,445.5" fill="#8c8c14"/>
<circle cx="286.8" cy="290.1" r="3.2" fill="#6fa3d8"/>
<polygon points="286.8,441.3 291.0,445.5 286.8,449.7 282.6,445.5" fill="#6fa3d8"/>
<circle cx="318.7" cy="290.1" r="3.2" fill="#6ab82a"/>
<polygon points="318.7,441.3 322.9,445.5 318.7,449.7 314.5,445.5" fill="#6ab82a"/>
<circle cx="350.5" cy="290.1" r="3.2" fill="#f0904a"/>
<polygon points="350.5,441.3 354.7,445.5 350.5,449.7 346.3,445.5" fill="#f0904a"/>
<circle cx="382.3" cy="290.1" r="3.2" fill="#5aaa5a"/>
<polygon points="382.3,441.3 386.5,445.5 382.3,449.7 378.1,445.5" fill="#5aaa5a"/>
<circle cx="414.2" cy="290.1" r="3.2" fill="#f8c030"/>
<polygon points="414.2,441.3 418.4,445.5 414.2,449.7 410.0,445.5" fill="#f8c030"/>
<circle cx="446.0" cy="290.1" r="3.2" fill="#1f4e99"/>
<polygon points="446.0,441.3 450.2,445.5 446.0,449.7 441.8,445.5" fill="#1f4e99"/>
<circle cx="477.9" cy="290.1" r="3.2" fill="#5bc8c0"/>
<polygon points="477.9,441.3 482.1,445.5 477.9,449.7 473.7,445.5" fill="#5bc8c0"/>
<circle cx="509.7" cy="290.1" r="3.2" fill="#4a5568"/>
<polygon points="509.7,441.3 513.9,445.5 509.7,449.7 505.5,445.5" fill="#4a5568"/>
<circle cx="541.6" cy="290.1" r="3.2" fill="#7fb0e0"/>
<polygon points="541.6,441.3 545.8,445.5 541.6,449.7 537.4,445.5" fill="#7fb0e0"/>
<circle cx="573.4" cy="290.1" r="3.2" fill="#d9506a"/>
<polygon points="573.4,441.3 577.6,445.5 573.4,449.7 569.2,445.5" fill="#d9506a"/>
<circle cx="605.2" cy="290.1" r="3.2" fill="#3cb88a"/>
<polygon points="605.2,441.3 609.4,445.5 605.2,449.7 601.0,445.5" fill="#3cb88a"/>
<circle cx="637.1" cy="290.1" r="3.2" fill="#f8c860"/>
<polygon points="637.1,441.3 641.3,445.5 637.1,449.7 632.9,445.5" fill="#f8c860"/>
<circle cx="53.8" cy="322.4" r="1.3" fill="#4a86c5"/>
<circle cx="54.3" cy="323.4" r="1.3" fill="#4a86c5"/>
<circle cx="55.4" cy="324.5" r="1.3" fill="#4a86c5"/>
<circle cx="57.1" cy="323.5" r="1.3" fill="#4a86c5"/>
<circle cx="58.7" cy="324.1" r="1.3" fill="#4a86c5"/>
<circle cx="59.7" cy="322.1" r="1.3" fill="#4a86c5"/>
<circle cx="59.9" cy="324.3" r="1.3" fill="#4a86c5"/>
<circle cx="61.7" cy="321.8" r="1.3" fill="#4a86c5"/>
<circle cx="65.2" cy="322.7" r="1.3" fill="#4a86c5"/>
<circle cx="66.1" cy="322.5" r="1.3" fill="#4a86c5"/>
<circle cx="66.2" cy="323.7" r="1.3" fill="#4a86c5"/>
<circle cx="67.8" cy="321.8" r="1.3" fill="#4a86c5"/>
<circle cx="69.4" cy="324.3" r="1.3" fill="#4a86c5"/>
<circle cx="70.8" cy="323.5" r="1.3" fill="#4a86c5"/>
<circle cx="72.6" cy="322.5" r="1.3" fill="#4a86c5"/>
<circle cx="74.3" cy="321.9" r="1.3" fill="#4a86c5"/>
<circle cx="73.6" cy="323.6" r="1.3" fill="#4a86c5"/>
<line x1="53.4" y1="323.1" x2="74.5" y2="323.1" stroke="#111" stroke-width="2"/>
<ellipse cx="64.0" cy="323.1" rx="2" ry="1.6" fill="#222"/>
<circle cx="53.6" cy="374.4" r="1.3" fill="#4a86c5"/>
<circle cx="55.9" cy="358.5" r="1.3" fill="#4a86c5"/>
<circle cx="56.2" cy="376.2" r="1.3" fill="#4a86c5"/>
<circle cx="56.9" cy="359.0" r="1.3" fill="#4a86c5"/>
<circle cx="56.6" cy="375.1" r="1.3" fill="#4a86c5"/>
<circle cx="58.8" cy="360.1" r="1.3" fill="#4a86c5"/>
<circle cx="59.1" cy="376.1" r="1.3" fill="#4a86c5"/>
<circle cx="60.7" cy="359.3" r="1.3" fill="#4a86c5"/>
<circle cx="60.2" cy="375.4" r="1.3" fill="#4a86c5"/>
<circle cx="61.8" cy="358.4" r="1.3" fill="#4a86c5"/>
<circle cx="61.7" cy="375.7" r="1.3" fill="#4a86c5"/>
<circle cx="62.9" cy="358.3" r="1.3" fill="#4a86c5"/>
<circle cx="63.2" cy="374.3" r="1.3" fill="#4a86c5"/>
<circle cx="64.6" cy="360.1" r="1.3" fill="#4a86c5"/>
<circle cx="64.8" cy="374.4" r="1.3" fill="#4a86c5"/>
<circle cx="66.4" cy="358.9" r="1.3" fill="#4a86c5"/>
<circle cx="66.0" cy="375.7" r="1.3" fill="#4a86c5"/>
<circle cx="67.1" cy="358.9" r="1.3" fill="#4a86c5"/>
<circle cx="68.3" cy="375.2" r="1.3" fill="#4a86c5"/>
<circle cx="69.3" cy="359.5" r="1.3" fill="#4a86c5"/>
<circle cx="69.0" cy="375.4" r="1.3" fill="#4a86c5"/>
<circle cx="70.5" cy="358.7" r="1.3" fill="#4a86c5"/>
<circle cx="70.2" cy="375.7" r="1.3" fill="#4a86c5"/>
<circle cx="72.0" cy="358.6" r="1.3" fill="#4a86c5"/>
<circle cx="71.9" cy="375.1" r="1.3" fill="#4a86c5"/>
<circle cx="74.0" cy="359.6" r="1.3" fill="#4a86c5"/>
<rect x="53.4" y="360.7" width="21.2" height="13.1" fill="#e7e6da" stroke="#222" stroke-width="1.3"/>
<ellipse cx="64.0" cy="359.3" rx="2" ry="1.1" fill="#111"/>
<ellipse cx="64.0" cy="375.2" rx="2" ry="1.1" fill="#111"/>
<rect x="62.2" y="365.6" width="3.4" height="3.4" fill="#f0f0ea" stroke="#8a8a8a" stroke-width="0.8"/>
<circle cx="85.6" cy="343.4" r="1.3" fill="#f28c38"/>
<circle cx="88.0" cy="341.8" r="1.3" fill="#f28c38"/>
<circle cx="87.0" cy="342.9" r="1.3" fill="#f28c38"/>
<circle cx="88.6" cy="343.6" r="1.3" fill="#f28c38"/>
<circle cx="90.3" cy="343.0" r="1.3" fill="#f28c38"/>
<circle cx="92.4" cy="341.7" r="1.3" fill="#f28c38"/>
<circle cx="91.9" cy="343.2" r="1.3" fill="#f28c38"/>
<circle cx="94.0" cy="342.1" r="1.3" fill="#f28c38"/>
<circle cx="95.6" cy="340.9" r="1.3" fill="#f28c38"/>
<circle cx="95.5" cy="343.6" r="1.3" fill="#f28c38"/>
<circle cx="96.9" cy="341.5" r="1.3" fill="#f28c38"/>
<circle cx="96.3" cy="342.9" r="1.3" fill="#f28c38"/>
<circle cx="97.5" cy="341.7" r="1.3" fill="#f28c38"/>
<circle cx="98.4" cy="343.7" r="1.3" fill="#f28c38"/>
<circle cx="101.2" cy="341.2" r="1.3" fill="#f28c38"/>
<circle cx="100.7" cy="343.5" r="1.3" fill="#f28c38"/>
<circle cx="102.6" cy="341.0" r="1.3" fill="#f28c38"/>
<circle cx="102.7" cy="343.0" r="1.3" fill="#f28c38"/>
<circle cx="104.5" cy="341.1" r="1.3" fill="#f28c38"/>
<circle cx="103.9" cy="343.3" r="1.3" fill="#f28c38"/>
<circle cx="106.0" cy="341.1" r="1.3" fill="#f28c38"/>
<line x1="85.2" y1="342.4" x2="106.4" y2="342.4" stroke="#111" stroke-width="2"/>
<ellipse cx="95.8" cy="342.4" rx="2" ry="1.6" fill="#222"/>
<circle cx="86.4" cy="360.0" r="1.3" fill="#f28c38"/>
<circle cx="86.4" cy="393.1" r="1.3" fill="#f28c38"/>
<circle cx="87.2" cy="360.4" r="1.3" fill="#f28c38"/>
<circle cx="87.5" cy="392.6" r="1.3" fill="#f28c38"/>
<circle cx="88.5" cy="360.9" r="1.3" fill="#f28c38"/>
<circle cx="90.9" cy="360.2" r="1.3" fill="#f28c38"/>
<circle cx="90.3" cy="393.3" r="1.3" fill="#f28c38"/>
<circle cx="92.2" cy="360.5" r="1.3" fill="#f28c38"/>
<circle cx="91.7" cy="392.9" r="1.3" fill="#f28c38"/>
<circle cx="93.6" cy="360.5" r="1.3" fill="#f28c38"/>
<circle cx="93.0" cy="393.3" r="1.3" fill="#f28c38"/>
<circle cx="95.2" cy="360.5" r="1.3" fill="#f28c38"/>
<circle cx="95.4" cy="393.4" r="1.3" fill="#f28c38"/>
<circle cx="96.4" cy="359.8" r="1.3" fill="#f28c38"/>
<circle cx="96.4" cy="393.5" r="1.3" fill="#f28c38"/>
<circle cx="97.7" cy="359.9" r="1.3" fill="#f28c38"/>
<circle cx="97.5" cy="393.4" r="1.3" fill="#f28c38"/>
<circle cx="101.4" cy="360.3" r="1.3" fill="#f28c38"/>
<circle cx="102.9" cy="394.0" r="1.3" fill="#f28c38"/>
<circle cx="104.2" cy="360.1" r="1.3" fill="#f28c38"/>
<circle cx="103.5" cy="394.1" r="1.3" fill="#f28c38"/>
<circle cx="105.0" cy="361.0" r="1.3" fill="#f28c38"/>
<circle cx="106.0" cy="392.7" r="1.3" fill="#f28c38"/>
<rect x="85.2" y="361.7" width="21.2" height="30.4" fill="#e7e6da" stroke="#222" stroke-width="1.3"/>
<ellipse cx="95.8" cy="360.3" rx="2" ry="1.1" fill="#111"/>
<ellipse cx="95.8" cy="393.5" rx="2" ry="1.1" fill="#111"/>
<rect x="94.1" y="377.3" width="3.4" height="3.4" fill="#f0f0ea" stroke="#8a8a8a" stroke-width="0.8"/>
<circle cx="118.2" cy="352.2" r="1.3" fill="#3aa66a"/>
<circle cx="119.9" cy="352.3" r="1.3" fill="#3aa66a"/>
<circle cx="118.8" cy="359.2" r="1.3" fill="#3aa66a"/>
<circle cx="121.1" cy="352.4" r="1.3" fill="#3aa66a"/>
<circle cx="121.4" cy="358.8" r="1.3" fill="#3aa66a"/>
<circle cx="122.0" cy="358.7" r="1.3" fill="#3aa66a"/>
<circle cx="124.0" cy="353.1" r="1.3" fill="#3aa66a"/>
<circle cx="123.7" cy="358.9" r="1.3" fill="#3aa66a"/>
<circle cx="125.3" cy="352.9" r="1.3" fill="#3aa66a"/>
<circle cx="125.9" cy="359.7" r="1.3" fill="#3aa66a"/>
<circle cx="126.5" cy="352.4" r="1.3" fill="#3aa66a"/>
<circle cx="127.1" cy="359.2" r="1.3" fill="#3aa66a"/>
<circle cx="128.0" cy="359.7" r="1.3" fill="#3aa66a"/>
<circle cx="130.4" cy="353.0" r="1.3" fill="#3aa66a"/>
<circle cx="130.2" cy="358.7" r="1.3" fill="#3aa66a"/>
<circle cx="131.0" cy="353.2" r="1.3" fill="#3aa66a"/>
<circle cx="131.1" cy="360.0" r="1.3" fill="#3aa66a"/>
<circle cx="132.7" cy="353.1" r="1.3" fill="#3aa66a"/>
<circle cx="133.3" cy="358.7" r="1.3" fill="#3aa66a"/>
<circle cx="134.1" cy="352.9" r="1.3" fill="#3aa66a"/>
<circle cx="134.3" cy="358.9" r="1.3" fill="#3aa66a"/>
<circle cx="135.7" cy="353.6" r="1.3" fill="#3aa66a"/>
<circle cx="136.5" cy="359.4" r="1.3" fill="#3aa66a"/>
<circle cx="137.8" cy="359.1" r="1.3" fill="#3aa66a"/>
<rect x="117.0" y="354.3" width="21.2" height="3.4" fill="#eeede2" stroke="#222" stroke-width="1.1"/>
<circle cx="117.7" cy="430.3" r="1.3" fill="#3aa66a"/>
<circle cx="119.3" cy="396.2" r="1.3" fill="#3aa66a"/>
<circle cx="119.6" cy="430.3" r="1.3" fill="#3aa66a"/>
<circle cx="121.3" cy="396.3" r="1.3" fill="#3aa66a"/>
<circle cx="120.6" cy="429.8" r="1.3" fill="#3aa66a"/>
<circle cx="123.6" cy="395.2" r="1.3" fill="#3aa66a"/>
<circle cx="123.4" cy="430.1" r="1.3" fill="#3aa66a"/>
<circle cx="125.1" cy="395.5" r="1.3" fill="#3aa66a"/>
<circle cx="125.6" cy="429.1" r="1.3" fill="#3aa66a"/>
<circle cx="126.8" cy="396.2" r="1.3" fill="#3aa66a"/>
<circle cx="128.3" cy="396.4" r="1.3" fill="#3aa66a"/>
<circle cx="128.1" cy="428.7" r="1.3" fill="#3aa66a"/>
<circle cx="131.2" cy="395.2" r="1.3" fill="#3aa66a"/>
<circle cx="131.2" cy="429.8" r="1.3" fill="#3aa66a"/>
<circle cx="133.3" cy="395.2" r="1.3" fill="#3aa66a"/>
<circle cx="133.5" cy="429.5" r="1.3" fill="#3aa66a"/>
<circle cx="134.0" cy="395.9" r="1.3" fill="#3aa66a"/>
<circle cx="134.7" cy="429.6" r="1.3" fill="#3aa66a"/>
<circle cx="135.5" cy="395.4" r="1.3" fill="#3aa66a"/>
<circle cx="137.6" cy="394.8" r="1.3" fill="#3aa66a"/>
<circle cx="137.0" cy="429.9" r="1.3" fill="#3aa66a"/>
<rect x="117.0" y="397.1" width="21.2" height="30.9" fill="#e7e6da" stroke="#222" stroke-width="1.3"/>
<ellipse cx="127.6" cy="395.7" rx="2" ry="1.1" fill="#111"/>
<ellipse cx="127.6" cy="429.4" rx="2" ry="1.1" fill="#111"/>
<rect x="125.9" y="410.2" width="3.4" height="3.4" fill="#f0f0ea" stroke="#8a8a8a" stroke-width="0.8"/>
<circle cx="149.8" cy="308.6" r="1.3" fill="#b07ee0"/>
<circle cx="149.6" cy="310.2" r="1.3" fill="#b07ee0"/>
<circle cx="150.7" cy="308.4" r="1.3" fill="#b07ee0"/>
<circle cx="151.2" cy="310.5" r="1.3" fill="#b07ee0"/>
<circle cx="152.4" cy="308.3" r="1.3" fill="#b07ee0"/>
<circle cx="152.1" cy="310.3" r="1.3" fill="#b07ee0"/>
<circle cx="154.5" cy="308.9" r="1.3" fill="#b07ee0"/>
<circle cx="154.1" cy="311.0" r="1.3" fill="#b07ee0"/>
<circle cx="155.2" cy="310.2" r="1.3" fill="#b07ee0"/>
<circle cx="156.7" cy="308.5" r="1.3" fill="#b07ee0"/>
<circle cx="156.8" cy="310.5" r="1.3" fill="#b07ee0"/>
<circle cx="159.0" cy="310.2" r="1.3" fill="#b07ee0"/>
<circle cx="160.1" cy="308.7" r="1.3" fill="#b07ee0"/>
<circle cx="160.3" cy="310.3" r="1.3" fill="#b07ee0"/>
<circle cx="162.1" cy="308.4" r="1.3" fill="#b07ee0"/>
<circle cx="163.1" cy="308.6" r="1.3" fill="#b07ee0"/>
<circle cx="165.0" cy="308.3" r="1.3" fill="#b07ee0"/>
<circle cx="164.7" cy="310.9" r="1.3" fill="#b07ee0"/>
<circle cx="165.7" cy="308.5" r="1.3" fill="#b07ee0"/>
<circle cx="166.2" cy="310.6" r="1.3" fill="#b07ee0"/>
<circle cx="167.4" cy="309.3" r="1.3" fill="#b07ee0"/>
<circle cx="167.8" cy="310.6" r="1.3" fill="#b07ee0"/>
<circle cx="169.7" cy="311.0" r="1.3" fill="#b07ee0"/>
<line x1="148.9" y1="309.7" x2="170.1" y2="309.7" stroke="#111" stroke-width="2"/>
<ellipse cx="159.5" cy="309.7" rx="2" ry="1.6" fill="#222"/>
<circle cx="149.8" cy="391.1" r="1.3" fill="#b07ee0"/>
<circle cx="149.4" cy="400.4" r="1.3" fill="#b07ee0"/>
<circle cx="151.7" cy="390.1" r="1.3" fill="#b07ee0"/>
<circle cx="151.4" cy="401.0" r="1.3" fill="#b07ee0"/>
<circle cx="152.9" cy="400.1" r="1.3" fill="#b07ee0"/>
<circle cx="154.6" cy="400.8" r="1.3" fill="#b07ee0"/>
<circle cx="155.7" cy="391.7" r="1.3" fill="#b07ee0"/>
<circle cx="155.2" cy="399.7" r="1.3" fill="#b07ee0"/>
<circle cx="157.2" cy="390.7" r="1.3" fill="#b07ee0"/>
<circle cx="157.1" cy="400.0" r="1.3" fill="#b07ee0"/>
<circle cx="158.7" cy="391.0" r="1.3" fill="#b07ee0"/>
<circle cx="160.5" cy="391.1" r="1.3" fill="#b07ee0"/>
<circle cx="160.3" cy="399.8" r="1.3" fill="#b07ee0"/>
<circle cx="161.1" cy="390.3" r="1.3" fill="#b07ee0"/>
<circle cx="161.3" cy="399.8" r="1.3" fill="#b07ee0"/>
<circle cx="162.9" cy="391.0" r="1.3" fill="#b07ee0"/>
<circle cx="162.8" cy="399.6" r="1.3" fill="#b07ee0"/>
<circle cx="164.3" cy="391.7" r="1.3" fill="#b07ee0"/>
<circle cx="164.2" cy="400.2" r="1.3" fill="#b07ee0"/>
<circle cx="166.5" cy="391.0" r="1.3" fill="#b07ee0"/>
<circle cx="166.1" cy="401.2" r="1.3" fill="#b07ee0"/>
<circle cx="167.4" cy="390.9" r="1.3" fill="#b07ee0"/>
<circle cx="167.4" cy="400.1" r="1.3" fill="#b07ee0"/>
<circle cx="168.8" cy="390.4" r="1.3" fill="#b07ee0"/>
<circle cx="169.0" cy="400.3" r="1.3" fill="#b07ee0"/>
<rect x="148.9" y="392.3" width="21.2" height="6.6" fill="#e7e6da" stroke="#222" stroke-width="1.3"/>
<ellipse cx="159.5" cy="390.9" rx="2" ry="1.1" fill="#111"/>
<ellipse cx="159.5" cy="400.3" rx="2" ry="1.1" fill="#111"/>
<rect x="157.8" y="392.9" width="3.4" height="3.4" fill="#f0f0ea" stroke="#8a8a8a" stroke-width="0.8"/>
<circle cx="182.0" cy="339.4" r="1.3" fill="#1ec8c8"/>
<circle cx="183.2" cy="339.5" r="1.3" fill="#1ec8c8"/>
<circle cx="184.6" cy="339.6" r="1.3" fill="#1ec8c8"/>
<circle cx="184.0" cy="340.4" r="1.3" fill="#1ec8c8"/>
<circle cx="185.5" cy="338.6" r="1.3" fill="#1ec8c8"/>
<circle cx="188.5" cy="338.9" r="1.3" fill="#1ec8c8"/>
<circle cx="189.6" cy="340.7" r="1.3" fill="#1ec8c8"/>
<circle cx="191.0" cy="339.2" r="1.3" fill="#1ec8c8"/>
<circle cx="190.4" cy="341.5" r="1.3" fill="#1ec8c8"/>
<circle cx="191.7" cy="338.8" r="1.3" fill="#1ec8c8"/>
<circle cx="192.5" cy="341.5" r="1.3" fill="#1ec8c8"/>
<circle cx="193.4" cy="339.4" r="1.3" fill="#1ec8c8"/>
<circle cx="193.9" cy="340.7" r="1.3" fill="#1ec8c8"/>
<circle cx="194.7" cy="338.9" r="1.3" fill="#1ec8c8"/>
<circle cx="195.3" cy="341.0" r="1.3" fill="#1ec8c8"/>
<circle cx="196.2" cy="339.6" r="1.3" fill="#1ec8c8"/>
<circle cx="196.5" cy="341.2" r="1.3" fill="#1ec8c8"/>
<circle cx="197.6" cy="338.6" r="1.3" fill="#1ec8c8"/>
<circle cx="200.0" cy="338.6" r="1.3" fill="#1ec8c8"/>
<circle cx="199.9" cy="340.8" r="1.3" fill="#1ec8c8"/>
<circle cx="200.6" cy="338.5" r="1.3" fill="#1ec8c8"/>
<circle cx="200.6" cy="340.5" r="1.3" fill="#1ec8c8"/>
<line x1="180.7" y1="340.0" x2="201.9" y2="340.0" stroke="#111" stroke-width="2"/>
<ellipse cx="191.3" cy="340.0" rx="2" ry="1.6" fill="#222"/>
<circle cx="181.0" cy="411.5" r="1.3" fill="#1ec8c8"/>
<circle cx="181.0" cy="420.5" r="1.3" fill="#1ec8c8"/>
<circle cx="183.1" cy="411.5" r="1.3" fill="#1ec8c8"/>
<circle cx="183.6" cy="420.3" r="1.3" fill="#1ec8c8"/>
<circle cx="184.4" cy="410.8" r="1.3" fill="#1ec8c8"/>
<circle cx="184.9" cy="419.6" r="1.3" fill="#1ec8c8"/>
<circle cx="185.6" cy="410.3" r="1.3" fill="#1ec8c8"/>
<circle cx="185.6" cy="421.1" r="1.3" fill="#1ec8c8"/>
<circle cx="187.0" cy="419.7" r="1.3" fill="#1ec8c8"/>
<circle cx="189.4" cy="410.7" r="1.3" fill="#1ec8c8"/>
<circle cx="190.4" cy="411.1" r="1.3" fill="#1ec8c8"/>
<circle cx="191.7" cy="420.2" r="1.3" fill="#1ec8c8"/>
<circle cx="193.8" cy="411.3" r="1.3" fill="#1ec8c8"/>
<circle cx="193.6" cy="420.3" r="1.3" fill="#1ec8c8"/>
<circle cx="195.4" cy="410.7" r="1.3" fill="#1ec8c8"/>
<circle cx="195.2" cy="419.9" r="1.3" fill="#1ec8c8"/>
<circle cx="197.2" cy="411.1" r="1.3" fill="#1ec8c8"/>
<circle cx="196.1" cy="419.6" r="1.3" fill="#1ec8c8"/>
<circle cx="198.6" cy="410.2" r="1.3" fill="#1ec8c8"/>
<circle cx="198.7" cy="421.1" r="1.3" fill="#1ec8c8"/>
<circle cx="199.6" cy="410.1" r="1.3" fill="#1ec8c8"/>
<circle cx="201.1" cy="411.1" r="1.3" fill="#1ec8c8"/>
<rect x="180.7" y="412.4" width="21.2" height="6.4" fill="#e7e6da" stroke="#222" stroke-width="1.3"/>
<ellipse cx="191.3" cy="411.0" rx="2" ry="1.1" fill="#111"/>
<ellipse cx="191.3" cy="420.2" rx="2" ry="1.1" fill="#111"/>
<rect x="189.6" y="412.2" width="3.4" height="3.4" fill="#f0f0ea" stroke="#8a8a8a" stroke-width="0.8"/>
<circle cx="213.0" cy="332.3" r="1.3" fill="#6b4545"/>
<circle cx="214.6" cy="330.0" r="1.3" fill="#6b4545"/>
<circle cx="214.3" cy="331.8" r="1.3" fill="#6b4545"/>
<circle cx="216.3" cy="329.8" r="1.3" fill="#6b4545"/>
<circle cx="216.7" cy="331.6" r="1.3" fill="#6b4545"/>
<circle cx="217.6" cy="330.6" r="1.3" fill="#6b4545"/>
<circle cx="217.5" cy="332.3" r="1.3" fill="#6b4545"/>
<circle cx="219.8" cy="331.6" r="1.3" fill="#6b4545"/>
<circle cx="220.7" cy="330.1" r="1.3" fill="#6b4545"/>
<circle cx="220.9" cy="332.5" r="1.3" fill="#6b4545"/>
<circle cx="222.1" cy="329.7" r="1.3" fill="#6b4545"/>
<circle cx="222.8" cy="331.7" r="1.3" fill="#6b4545"/>
<circle cx="224.3" cy="330.6" r="1.3" fill="#6b4545"/>
<circle cx="223.9" cy="331.6" r="1.3" fill="#6b4545"/>
<circle cx="224.9" cy="329.8" r="1.3" fill="#6b4545"/>
<circle cx="226.4" cy="331.5" r="1.3" fill="#6b4545"/>
<circle cx="228.3" cy="330.7" r="1.3" fill="#6b4545"/>
<circle cx="228.5" cy="331.8" r="1.3" fill="#6b4545"/>
<circle cx="229.8" cy="331.5" r="1.3" fill="#6b4545"/>
<circle cx="231.4" cy="329.9" r="1.3" fill="#6b4545"/>
<circle cx="232.6" cy="329.8" r="1.3" fill="#6b4545"/>
<circle cx="233.3" cy="332.4" r="1.3" fill="#6b4545"/>
<line x1="212.5" y1="331.1" x2="233.7" y2="331.1" stroke="#111" stroke-width="2"/>
<ellipse cx="223.1" cy="331.1" rx="2" ry="1.6" fill="#222"/>
<circle cx="213.4" cy="392.7" r="1.3" fill="#6b4545"/>
<circle cx="212.8" cy="394.7" r="1.3" fill="#6b4545"/>
<circle cx="215.3" cy="392.1" r="1.3" fill="#6b4545"/>
<circle cx="216.5" cy="392.3" r="1.3" fill="#6b4545"/>
<circle cx="216.0" cy="394.5" r="1.3" fill="#6b4545"/>
<circle cx="218.5" cy="392.4" r="1.3" fill="#6b4545"/>
<circle cx="217.7" cy="394.6" r="1.3" fill="#6b4545"/>
<circle cx="219.0" cy="394.3" r="1.3" fill="#6b4545"/>
<circle cx="222.5" cy="392.2" r="1.3" fill="#6b4545"/>
<circle cx="222.5" cy="394.0" r="1.3" fill="#6b4545"/>
<circle cx="223.4" cy="394.1" r="1.3" fill="#6b4545"/>
<circle cx="226.0" cy="393.9" r="1.3" fill="#6b4545"/>
<circle cx="227.4" cy="392.5" r="1.3" fill="#6b4545"/>
<circle cx="227.3" cy="394.0" r="1.3" fill="#6b4545"/>
<circle cx="228.2" cy="394.0" r="1.3" fill="#6b4545"/>
<circle cx="229.5" cy="391.8" r="1.3" fill="#6b4545"/>
<circle cx="229.4" cy="393.9" r="1.3" fill="#6b4545"/>
<circle cx="230.9" cy="392.0" r="1.3" fill="#6b4545"/>
<circle cx="231.8" cy="394.6" r="1.3" fill="#6b4545"/>
<circle cx="232.4" cy="391.8" r="1.3" fill="#6b4545"/>
<circle cx="232.4" cy="394.2" r="1.3" fill="#6b4545"/>
<line x1="212.5" y1="393.3" x2="233.7" y2="393.3" stroke="#111" stroke-width="2"/>
<ellipse cx="223.1" cy="393.3" rx="2" ry="1.6" fill="#222"/>
<line x1="244.5" y1="325.6" x2="265.5" y2="325.6" stroke="#222" stroke-width="1.2"/>
<circle cx="255.0" cy="325.6" r="2" fill="#55551a"/>
<line x1="244.5" y1="392.3" x2="265.5" y2="392.3" stroke="#222" stroke-width="1.2"/>
<circle cx="255.0" cy="392.3" r="2" fill="#55551a"/>
<circle cx="276.8" cy="324.6" r="1.3" fill="#6fa3d8"/>
<circle cx="280.3" cy="324.5" r="1.3" fill="#6fa3d8"/>
<circle cx="279.5" cy="328.6" r="1.3" fill="#6fa3d8"/>
<circle cx="282.0" cy="330.1" r="1.3" fill="#6fa3d8"/>
<circle cx="283.1" cy="324.5" r="1.3" fill="#6fa3d8"/>
<circle cx="284.3" cy="324.5" r="1.3" fill="#6fa3d8"/>
<circle cx="284.1" cy="330.0" r="1.3" fill="#6fa3d8"/>
<circle cx="285.6" cy="322.9" r="1.3" fill="#6fa3d8"/>
<circle cx="287.3" cy="322.9" r="1.3" fill="#6fa3d8"/>
<circle cx="287.6" cy="328.9" r="1.3" fill="#6fa3d8"/>
<circle cx="288.5" cy="323.3" r="1.3" fill="#6fa3d8"/>
<circle cx="289.4" cy="329.2" r="1.3" fill="#6fa3d8"/>
<circle cx="290.6" cy="323.7" r="1.3" fill="#6fa3d8"/>
<circle cx="291.0" cy="329.4" r="1.3" fill="#6fa3d8"/>
<circle cx="294.0" cy="324.2" r="1.3" fill="#6fa3d8"/>
<circle cx="293.3" cy="330.1" r="1.3" fill="#6fa3d8"/>
<circle cx="294.7" cy="329.9" r="1.3" fill="#6fa3d8"/>
<circle cx="296.9" cy="329.7" r="1.3" fill="#6fa3d8"/>
<rect x="276.2" y="325.2" width="21.2" height="2.5" fill="#eeede2" stroke="#222" stroke-width="1.1"/>
<circle cx="284.0" cy="379.9" r="1.3" fill="#6fa3d8"/>
<circle cx="286.4" cy="378.4" r="1.3" fill="#6fa3d8"/>
<circle cx="287.5" cy="379.1" r="1.3" fill="#6fa3d8"/>
<circle cx="286.9" cy="379.3" r="1.3" fill="#6fa3d8"/>
<circle cx="285.6" cy="379.2" r="1.3" fill="#6fa3d8"/>
<circle cx="287.5" cy="381.7" r="1.3" fill="#6fa3d8"/>
<line x1="286.8" y1="384.8" x2="286.8" y2="379.3" stroke="#111" stroke-width="1"/>
<line x1="284.8" y1="379.3" x2="288.8" y2="379.3" stroke="#111" stroke-width="1.2"/>
<circle cx="277.4" cy="398.2" r="1.3" fill="#6fa3d8"/>
<circle cx="278.3" cy="383.3" r="1.3" fill="#6fa3d8"/>
<circle cx="278.8" cy="397.6" r="1.3" fill="#6fa3d8"/>
<circle cx="280.0" cy="397.3" r="1.3" fill="#6fa3d8"/>
<circle cx="281.6" cy="397.5" r="1.3" fill="#6fa3d8"/>
<circle cx="282.5" cy="382.6" r="1.3" fill="#6fa3d8"/>
<circle cx="283.4" cy="398.0" r="1.3" fill="#6fa3d8"/>
<circle cx="284.4" cy="397.4" r="1.3" fill="#6fa3d8"/>
<circle cx="286.5" cy="382.6" r="1.3" fill="#6fa3d8"/>
<circle cx="286.3" cy="396.9" r="1.3" fill="#6fa3d8"/>
<circle cx="287.6" cy="383.5" r="1.3" fill="#6fa3d8"/>
<circle cx="289.2" cy="383.8" r="1.3" fill="#6fa3d8"/>
<circle cx="288.9" cy="396.6" r="1.3" fill="#6fa3d8"/>
<circle cx="290.1" cy="383.7" r="1.3" fill="#6fa3d8"/>
<circle cx="290.0" cy="398.1" r="1.3" fill="#6fa3d8"/>
<circle cx="292.1" cy="382.7" r="1.3" fill="#6fa3d8"/>
<circle cx="293.5" cy="384.0" r="1.3" fill="#6fa3d8"/>
<circle cx="294.1" cy="397.2" r="1.3" fill="#6fa3d8"/>
<circle cx="295.6" cy="383.9" r="1.3" fill="#6fa3d8"/>
<circle cx="295.5" cy="396.5" r="1.3" fill="#6fa3d8"/>
<circle cx="296.1" cy="384.2" r="1.3" fill="#6fa3d8"/>
<circle cx="297.0" cy="396.9" r="1.3" fill="#6fa3d8"/>
<rect x="276.2" y="384.8" width="21.2" height="11.1" fill="#e7e6da" stroke="#222" stroke-width="1.3"/>
<ellipse cx="286.8" cy="383.4" rx="2" ry="1.1" fill="#111"/>
<ellipse cx="286.8" cy="397.2" rx="2" ry="1.1" fill="#111"/>
<rect x="285.1" y="386.1" width="3.4" height="3.4" fill="#f0f0ea" stroke="#8a8a8a" stroke-width="0.8"/>
<circle cx="308.7" cy="325.9" r="1.3" fill="#6ab82a"/>
<circle cx="309.0" cy="327.6" r="1.3" fill="#6ab82a"/>
<circle cx="310.6" cy="327.6" r="1.3" fill="#6ab82a"/>
<circle cx="311.4" cy="327.7" r="1.3" fill="#6ab82a"/>
<circle cx="313.8" cy="327.6" r="1.3" fill="#6ab82a"/>
<circle cx="314.5" cy="327.2" r="1.3" fill="#6ab82a"/>
<circle cx="316.6" cy="325.3" r="1.3" fill="#6ab82a"/>
<circle cx="316.4" cy="327.2" r="1.3" fill="#6ab82a"/>
<circle cx="317.6" cy="325.4" r="1.3" fill="#6ab82a"/>
<circle cx="318.0" cy="328.3" r="1.3" fill="#6ab82a"/>
<circle cx="319.6" cy="326.2" r="1.3" fill="#6ab82a"/>
<circle cx="320.5" cy="325.7" r="1.3" fill="#6ab82a"/>
<circle cx="320.8" cy="328.2" r="1.3" fill="#6ab82a"/>
<circle cx="322.9" cy="326.2" r="1.3" fill="#6ab82a"/>
<circle cx="321.9" cy="327.5" r="1.3" fill="#6ab82a"/>
<circle cx="326.0" cy="325.3" r="1.3" fill="#6ab82a"/>
<circle cx="325.3" cy="327.3" r="1.3" fill="#6ab82a"/>
<circle cx="326.4" cy="325.9" r="1.3" fill="#6ab82a"/>
<circle cx="327.9" cy="325.9" r="1.3" fill="#6ab82a"/>
<circle cx="328.1" cy="327.4" r="1.3" fill="#6ab82a"/>
<line x1="308.1" y1="326.8" x2="329.3" y2="326.8" stroke="#111" stroke-width="2"/>
<ellipse cx="318.7" cy="326.8" rx="2" ry="1.6" fill="#222"/>
<circle cx="309.1" cy="364.8" r="1.3" fill="#6ab82a"/>
<circle cx="308.5" cy="380.3" r="1.3" fill="#6ab82a"/>
<circle cx="310.1" cy="364.6" r="1.3" fill="#6ab82a"/>
<circle cx="310.6" cy="379.6" r="1.3" fill="#6ab82a"/>
<circle cx="312.2" cy="364.0" r="1.3" fill="#6ab82a"/>
<circle cx="312.0" cy="380.1" r="1.3" fill="#6ab82a"/>
<circle cx="312.9" cy="363.4" r="1.3" fill="#6ab82a"/>
<circle cx="313.4" cy="379.8" r="1.3" fill="#6ab82a"/>
<circle cx="315.4" cy="364.6" r="1.3" fill="#6ab82a"/>
<circle cx="316.4" cy="380.6" r="1.3" fill="#6ab82a"/>
<circle cx="317.7" cy="363.9" r="1.3" fill="#6ab82a"/>
<circle cx="317.4" cy="380.9" r="1.3" fill="#6ab82a"/>
<circle cx="319.4" cy="363.4" r="1.3" fill="#6ab82a"/>
<circle cx="319.4" cy="380.4" r="1.3" fill="#6ab82a"/>
<circle cx="321.3" cy="364.8" r="1.3" fill="#6ab82a"/>
<circle cx="321.2" cy="379.8" r="1.3" fill="#6ab82a"/>
<circle cx="324.4" cy="364.5" r="1.3" fill="#6ab82a"/>
<circle cx="323.4" cy="380.7" r="1.3" fill="#6ab82a"/>
<circle cx="325.3" cy="363.9" r="1.3" fill="#6ab82a"/>
<circle cx="325.2" cy="380.3" r="1.3" fill="#6ab82a"/>
<circle cx="326.8" cy="364.0" r="1.3" fill="#6ab82a"/>
<circle cx="326.7" cy="379.6" r="1.3" fill="#6ab82a"/>
<circle cx="328.3" cy="364.2" r="1.3" fill="#6ab82a"/>
<circle cx="328.6" cy="379.4" r="1.3" fill="#6ab82a"/>
<rect x="308.1" y="365.5" width="21.2" height="13.3" fill="#e7e6da" stroke="#222" stroke-width="1.3"/>
<ellipse cx="318.7" cy="364.1" rx="2" ry="1.1" fill="#111"/>
<ellipse cx="318.7" cy="380.2" rx="2" ry="1.1" fill="#111"/>
<rect x="317.0" y="369.9" width="3.4" height="3.4" fill="#f0f0ea" stroke="#8a8a8a" stroke-width="0.8"/>
<circle cx="340.7" cy="322.6" r="1.3" fill="#f0904a"/>
<circle cx="340.3" cy="324.4" r="1.3" fill="#f0904a"/>
<circle cx="342.2" cy="323.9" r="1.3" fill="#f0904a"/>
<circle cx="343.5" cy="322.1" r="1.3" fill="#f0904a"/>
<circle cx="345.2" cy="322.9" r="1.3" fill="#f0904a"/>
<circle cx="345.8" cy="324.5" r="1.3" fill="#f0904a"/>
<circle cx="346.8" cy="323.0" r="1.3" fill="#f0904a"/>
<circle cx="347.3" cy="324.7" r="1.3" fill="#f0904a"/>
<circle cx="348.7" cy="322.4" r="1.3" fill="#f0904a"/>
<circle cx="348.5" cy="324.4" r="1.3" fill="#f0904a"/>
<circle cx="350.3" cy="322.3" r="1.3" fill="#f0904a"/>
<circle cx="349.4" cy="324.1" r="1.3" fill="#f0904a"/>
<circle cx="351.3" cy="322.2" r="1.3" fill="#f0904a"/>
<circle cx="351.6" cy="324.6" r="1.3" fill="#f0904a"/>
<circle cx="352.5" cy="324.5" r="1.3" fill="#f0904a"/>
<circle cx="354.1" cy="323.0" r="1.3" fill="#f0904a"/>
<circle cx="354.4" cy="324.7" r="1.3" fill="#f0904a"/>
<circle cx="356.2" cy="324.2" r="1.3" fill="#f0904a"/>
<circle cx="356.7" cy="322.3" r="1.3" fill="#f0904a"/>
<circle cx="357.8" cy="324.0" r="1.3" fill="#f0904a"/>
<circle cx="359.4" cy="322.6" r="1.3" fill="#f0904a"/>
<circle cx="359.1" cy="324.5" r="1.3" fill="#f0904a"/>
<circle cx="360.5" cy="323.0" r="1.3" fill="#f0904a"/>
<circle cx="359.9" cy="324.9" r="1.3" fill="#f0904a"/>
<line x1="339.9" y1="323.5" x2="361.1" y2="323.5" stroke="#111" stroke-width="2"/>
<ellipse cx="350.5" cy="323.5" rx="2" ry="1.6" fill="#222"/>
<circle cx="340.3" cy="364.8" r="1.3" fill="#f0904a"/>
<circle cx="341.1" cy="383.7" r="1.3" fill="#f0904a"/>
<circle cx="342.8" cy="364.5" r="1.3" fill="#f0904a"/>
<circle cx="342.5" cy="383.4" r="1.3" fill="#f0904a"/>
<circle cx="344.0" cy="364.9" r="1.3" fill="#f0904a"/>
<circle cx="343.7" cy="384.7" r="1.3" fill="#f0904a"/>
<circle cx="346.7" cy="364.4" r="1.3" fill="#f0904a"/>
<circle cx="346.4" cy="384.4" r="1.3" fill="#f0904a"/>
<circle cx="348.1" cy="364.2" r="1.3" fill="#f0904a"/>
<circle cx="347.8" cy="383.9" r="1.3" fill="#f0904a"/>
<circle cx="349.8" cy="364.5" r="1.3" fill="#f0904a"/>
<circle cx="349.2" cy="383.5" r="1.3" fill="#f0904a"/>
<circle cx="350.9" cy="364.5" r="1.3" fill="#f0904a"/>
<circle cx="351.6" cy="384.1" r="1.3" fill="#f0904a"/>
<circle cx="353.1" cy="364.2" r="1.3" fill="#f0904a"/>
<circle cx="352.5" cy="384.3" r="1.3" fill="#f0904a"/>
<circle cx="354.3" cy="363.2" r="1.3" fill="#f0904a"/>
<circle cx="354.4" cy="383.7" r="1.3" fill="#f0904a"/>
<circle cx="355.4" cy="384.7" r="1.3" fill="#f0904a"/>
<circle cx="356.8" cy="364.1" r="1.3" fill="#f0904a"/>
<circle cx="358.7" cy="364.1" r="1.3" fill="#f0904a"/>
<circle cx="358.2" cy="384.5" r="1.3" fill="#f0904a"/>
<circle cx="360.8" cy="363.7" r="1.3" fill="#f0904a"/>
<circle cx="360.1" cy="383.4" r="1.3" fill="#f0904a"/>
<rect x="339.9" y="365.5" width="21.2" height="16.8" fill="#e7e6da" stroke="#222" stroke-width="1.3"/>
<ellipse cx="350.5" cy="364.1" rx="2" ry="1.1" fill="#111"/>
<ellipse cx="350.5" cy="383.7" rx="2" ry="1.1" fill="#111"/>
<rect x="348.8" y="373.2" width="3.4" height="3.4" fill="#f0f0ea" stroke="#8a8a8a" stroke-width="0.8"/>
<circle cx="372.3" cy="317.2" r="1.3" fill="#5aaa5a"/>
<circle cx="373.7" cy="319.6" r="1.3" fill="#5aaa5a"/>
<circle cx="375.6" cy="317.4" r="1.3" fill="#5aaa5a"/>
<circle cx="375.7" cy="319.5" r="1.3" fill="#5aaa5a"/>
<circle cx="376.5" cy="319.5" r="1.3" fill="#5aaa5a"/>
<circle cx="379.1" cy="317.1" r="1.3" fill="#5aaa5a"/>
<circle cx="378.7" cy="319.3" r="1.3" fill="#5aaa5a"/>
<circle cx="380.2" cy="317.6" r="1.3" fill="#5aaa5a"/>
<circle cx="380.4" cy="319.3" r="1.3" fill="#5aaa5a"/>
<circle cx="381.3" cy="317.2" r="1.3" fill="#5aaa5a"/>
<circle cx="383.1" cy="317.6" r="1.3" fill="#5aaa5a"/>
<circle cx="382.6" cy="319.4" r="1.3" fill="#5aaa5a"/>
<circle cx="384.7" cy="317.8" r="1.3" fill="#5aaa5a"/>
<circle cx="384.1" cy="319.3" r="1.3" fill="#5aaa5a"/>
<circle cx="386.2" cy="319.2" r="1.3" fill="#5aaa5a"/>
<circle cx="387.1" cy="317.1" r="1.3" fill="#5aaa5a"/>
<circle cx="387.5" cy="319.0" r="1.3" fill="#5aaa5a"/>
<circle cx="388.8" cy="317.8" r="1.3" fill="#5aaa5a"/>
<circle cx="389.3" cy="319.6" r="1.3" fill="#5aaa5a"/>
<circle cx="390.2" cy="317.4" r="1.3" fill="#5aaa5a"/>
<circle cx="390.5" cy="319.2" r="1.3" fill="#5aaa5a"/>
<circle cx="391.8" cy="317.2" r="1.3" fill="#5aaa5a"/>
<line x1="371.7" y1="318.3" x2="392.9" y2="318.3" stroke="#111" stroke-width="2"/>
<ellipse cx="382.3" cy="318.3" rx="2" ry="1.6" fill="#222"/>
<circle cx="372.9" cy="416.9" r="1.3" fill="#5aaa5a"/>
<circle cx="373.6" cy="405.1" r="1.3" fill="#5aaa5a"/>
<circle cx="373.6" cy="416.9" r="1.3" fill="#5aaa5a"/>
<circle cx="376.1" cy="415.4" r="1.3" fill="#5aaa5a"/>
<circle cx="377.0" cy="415.9" r="1.3" fill="#5aaa5a"/>
<circle cx="379.1" cy="406.8" r="1.3" fill="#5aaa5a"/>
<circle cx="379.1" cy="415.8" r="1.3" fill="#5aaa5a"/>
<circle cx="380.7" cy="406.6" r="1.3" fill="#5aaa5a"/>
<circle cx="380.6" cy="415.5" r="1.3" fill="#5aaa5a"/>
<circle cx="382.1" cy="405.1" r="1.3" fill="#5aaa5a"/>
<circle cx="381.4" cy="415.5" r="1.3" fill="#5aaa5a"/>
<circle cx="383.2" cy="406.1" r="1.3" fill="#5aaa5a"/>
<circle cx="383.1" cy="416.7" r="1.3" fill="#5aaa5a"/>
<circle cx="385.1" cy="405.3" r="1.3" fill="#5aaa5a"/>
<circle cx="384.1" cy="415.5" r="1.3" fill="#5aaa5a"/>
<circle cx="387.7" cy="406.0" r="1.3" fill="#5aaa5a"/>
<circle cx="388.9" cy="405.0" r="1.3" fill="#5aaa5a"/>
<circle cx="390.4" cy="406.6" r="1.3" fill="#5aaa5a"/>
<circle cx="391.1" cy="415.7" r="1.3" fill="#5aaa5a"/>
<circle cx="392.3" cy="406.3" r="1.3" fill="#5aaa5a"/>
<circle cx="391.7" cy="415.1" r="1.3" fill="#5aaa5a"/>
<rect x="371.7" y="407.3" width="21.2" height="7.3" fill="#e7e6da" stroke="#222" stroke-width="1.3"/>
<ellipse cx="382.3" cy="405.9" rx="2" ry="1.1" fill="#111"/>
<ellipse cx="382.3" cy="416.0" rx="2" ry="1.1" fill="#111"/>
<rect x="380.6" y="408.5" width="3.4" height="3.4" fill="#f0f0ea" stroke="#8a8a8a" stroke-width="0.8"/>
<circle cx="404.8" cy="318.5" r="1.3" fill="#f8c030"/>
<circle cx="404.2" cy="323.7" r="1.3" fill="#f8c030"/>
<circle cx="405.9" cy="318.2" r="1.3" fill="#f8c030"/>
<circle cx="405.6" cy="324.5" r="1.3" fill="#f8c030"/>
<circle cx="407.3" cy="318.0" r="1.3" fill="#f8c030"/>
<circle cx="406.9" cy="324.7" r="1.3" fill="#f8c030"/>
<circle cx="408.9" cy="317.9" r="1.3" fill="#f8c030"/>
<circle cx="409.3" cy="323.7" r="1.3" fill="#f8c030"/>
<circle cx="410.3" cy="317.8" r="1.3" fill="#f8c030"/>
<circle cx="410.4" cy="323.9" r="1.3" fill="#f8c030"/>
<circle cx="411.9" cy="318.5" r="1.3" fill="#f8c030"/>
<circle cx="412.5" cy="324.7" r="1.3" fill="#f8c030"/>
<circle cx="413.0" cy="318.4" r="1.3" fill="#f8c030"/>
<circle cx="412.9" cy="324.6" r="1.3" fill="#f8c030"/>
<circle cx="415.5" cy="323.8" r="1.3" fill="#f8c030"/>
<circle cx="416.0" cy="318.0" r="1.3" fill="#f8c030"/>
<circle cx="416.7" cy="325.0" r="1.3" fill="#f8c030"/>
<circle cx="418.0" cy="324.7" r="1.3" fill="#f8c030"/>
<circle cx="419.0" cy="317.3" r="1.3" fill="#f8c030"/>
<circle cx="419.2" cy="323.1" r="1.3" fill="#f8c030"/>
<circle cx="420.6" cy="318.8" r="1.3" fill="#f8c030"/>
<circle cx="422.1" cy="317.5" r="1.3" fill="#f8c030"/>
<circle cx="422.6" cy="324.4" r="1.3" fill="#f8c030"/>
<circle cx="423.4" cy="317.9" r="1.3" fill="#f8c030"/>
<circle cx="424.6" cy="324.2" r="1.3" fill="#f8c030"/>
<rect x="403.6" y="319.4" width="21.2" height="3.2" fill="#eeede2" stroke="#222" stroke-width="1.1"/>
<circle cx="404.3" cy="421.6" r="1.3" fill="#f8c030"/>
<circle cx="405.5" cy="396.9" r="1.3" fill="#f8c030"/>
<circle cx="406.3" cy="420.7" r="1.3" fill="#f8c030"/>
<circle cx="407.3" cy="421.3" r="1.3" fill="#f8c030"/>
<circle cx="409.2" cy="397.8" r="1.3" fill="#f8c030"/>
<circle cx="409.2" cy="420.9" r="1.3" fill="#f8c030"/>
<circle cx="410.7" cy="421.1" r="1.3" fill="#f8c030"/>
<circle cx="412.5" cy="398.0" r="1.3" fill="#f8c030"/>
<circle cx="411.4" cy="421.4" r="1.3" fill="#f8c030"/>
<circle cx="413.6" cy="421.6" r="1.3" fill="#f8c030"/>
<circle cx="415.1" cy="397.5" r="1.3" fill="#f8c030"/>
<circle cx="415.0" cy="421.9" r="1.3" fill="#f8c030"/>
<circle cx="416.1" cy="397.8" r="1.3" fill="#f8c030"/>
<circle cx="416.9" cy="421.2" r="1.3" fill="#f8c030"/>
<circle cx="417.9" cy="398.0" r="1.3" fill="#f8c030"/>
<circle cx="417.7" cy="421.4" r="1.3" fill="#f8c030"/>
<circle cx="419.6" cy="398.1" r="1.3" fill="#f8c030"/>
<circle cx="420.9" cy="397.8" r="1.3" fill="#f8c030"/>
<circle cx="422.7" cy="397.6" r="1.3" fill="#f8c030"/>
<circle cx="422.5" cy="421.8" r="1.3" fill="#f8c030"/>
<circle cx="423.8" cy="397.2" r="1.3" fill="#f8c030"/>
<circle cx="424.1" cy="421.9" r="1.3" fill="#f8c030"/>
<rect x="403.6" y="398.9" width="21.2" height="20.9" fill="#e7e6da" stroke="#222" stroke-width="1.3"/>
<ellipse cx="414.2" cy="397.5" rx="2" ry="1.1" fill="#111"/>
<ellipse cx="414.2" cy="421.2" rx="2" ry="1.1" fill="#111"/>
<rect x="412.5" y="407.5" width="3.4" height="3.4" fill="#f0f0ea" stroke="#8a8a8a" stroke-width="0.8"/>
<circle cx="436.3" cy="329.8" r="1.3" fill="#1f4e99"/>
<circle cx="436.3" cy="335.2" r="1.3" fill="#1f4e99"/>
<circle cx="437.6" cy="329.9" r="1.3" fill="#1f4e99"/>
<circle cx="437.3" cy="335.8" r="1.3" fill="#1f4e99"/>
<circle cx="439.3" cy="328.6" r="1.3" fill="#1f4e99"/>
<circle cx="439.4" cy="335.6" r="1.3" fill="#1f4e99"/>
<circle cx="440.3" cy="334.6" r="1.3" fill="#1f4e99"/>
<circle cx="442.4" cy="335.0" r="1.3" fill="#1f4e99"/>
<circle cx="444.0" cy="328.2" r="1.3" fill="#1f4e99"/>
<circle cx="445.5" cy="328.1" r="1.3" fill="#1f4e99"/>
<circle cx="445.0" cy="334.4" r="1.3" fill="#1f4e99"/>
<circle cx="446.4" cy="329.8" r="1.3" fill="#1f4e99"/>
<circle cx="447.1" cy="335.8" r="1.3" fill="#1f4e99"/>
<circle cx="448.6" cy="328.3" r="1.3" fill="#1f4e99"/>
<circle cx="447.7" cy="334.8" r="1.3" fill="#1f4e99"/>
<circle cx="449.7" cy="328.3" r="1.3" fill="#1f4e99"/>
<circle cx="451.5" cy="329.0" r="1.3" fill="#1f4e99"/>
<circle cx="452.7" cy="328.8" r="1.3" fill="#1f4e99"/>
<circle cx="453.7" cy="329.0" r="1.3" fill="#1f4e99"/>
<circle cx="454.0" cy="335.0" r="1.3" fill="#1f4e99"/>
<rect x="435.4" y="330.4" width="21.2" height="3.2" fill="#eeede2" stroke="#222" stroke-width="1.1"/>
<circle cx="436.7" cy="409.2" r="1.3" fill="#1f4e99"/>
<circle cx="438.0" cy="410.4" r="1.3" fill="#1f4e99"/>
<circle cx="437.9" cy="422.2" r="1.3" fill="#1f4e99"/>
<circle cx="439.1" cy="422.5" r="1.3" fill="#1f4e99"/>
<circle cx="440.9" cy="409.7" r="1.3" fill="#1f4e99"/>
<circle cx="440.7" cy="421.8" r="1.3" fill="#1f4e99"/>
<circle cx="442.7" cy="421.3" r="1.3" fill="#1f4e99"/>
<circle cx="443.4" cy="409.2" r="1.3" fill="#1f4e99"/>
<circle cx="444.0" cy="422.2" r="1.3" fill="#1f4e99"/>
<circle cx="445.3" cy="409.6" r="1.3" fill="#1f4e99"/>
<circle cx="445.2" cy="422.2" r="1.3" fill="#1f4e99"/>
<circle cx="447.4" cy="409.7" r="1.3" fill="#1f4e99"/>
<circle cx="447.3" cy="421.9" r="1.3" fill="#1f4e99"/>
<circle cx="448.7" cy="409.3" r="1.3" fill="#1f4e99"/>
<circle cx="448.4" cy="421.4" r="1.3" fill="#1f4e99"/>
<circle cx="449.9" cy="409.8" r="1.3" fill="#1f4e99"/>
<circle cx="451.7" cy="409.3" r="1.3" fill="#1f4e99"/>
<circle cx="451.2" cy="421.1" r="1.3" fill="#1f4e99"/>
<circle cx="453.2" cy="409.3" r="1.3" fill="#1f4e99"/>
<circle cx="453.7" cy="409.8" r="1.3" fill="#1f4e99"/>
<circle cx="453.8" cy="422.5" r="1.3" fill="#1f4e99"/>
<circle cx="456.0" cy="409.2" r="1.3" fill="#1f4e99"/>
<rect x="435.4" y="411.3" width="21.2" height="9.0" fill="#e7e6da" stroke="#222" stroke-width="1.3"/>
<ellipse cx="446.0" cy="409.9" rx="2" ry="1.1" fill="#111"/>
<ellipse cx="446.0" cy="421.7" rx="2" ry="1.1" fill="#111"/>
<rect x="444.3" y="414.0" width="3.4" height="3.4" fill="#f0f0ea" stroke="#8a8a8a" stroke-width="0.8"/>
<circle cx="477.2" cy="343.9" r="1.3" fill="#5bc8c0"/>
<circle cx="481.2" cy="343.9" r="1.3" fill="#5bc8c0"/>
<circle cx="476.1" cy="346.7" r="1.3" fill="#5bc8c0"/>
<circle cx="475.2" cy="345.8" r="1.3" fill="#5bc8c0"/>
<circle cx="480.4" cy="346.0" r="1.3" fill="#5bc8c0"/>
<circle cx="476.8" cy="346.6" r="1.3" fill="#5bc8c0"/>
<line x1="477.9" y1="349.4" x2="477.9" y2="345.1" stroke="#111" stroke-width="1"/>
<line x1="475.9" y1="345.1" x2="479.9" y2="345.1" stroke="#111" stroke-width="1.2"/>
<circle cx="468.5" cy="348.6" r="1.3" fill="#5bc8c0"/>
<circle cx="467.9" cy="351.2" r="1.3" fill="#5bc8c0"/>
<circle cx="470.1" cy="349.1" r="1.3" fill="#5bc8c0"/>
<circle cx="469.2" cy="350.3" r="1.3" fill="#5bc8c0"/>
<circle cx="470.7" cy="349.1" r="1.3" fill="#5bc8c0"/>
<circle cx="471.7" cy="351.1" r="1.3" fill="#5bc8c0"/>
<circle cx="473.0" cy="348.4" r="1.3" fill="#5bc8c0"/>
<circle cx="472.5" cy="350.1" r="1.3" fill="#5bc8c0"/>
<circle cx="474.3" cy="349.0" r="1.3" fill="#5bc8c0"/>
<circle cx="474.5" cy="350.6" r="1.3" fill="#5bc8c0"/>
<circle cx="475.1" cy="348.3" r="1.3" fill="#5bc8c0"/>
<circle cx="475.6" cy="350.3" r="1.3" fill="#5bc8c0"/>
<circle cx="477.3" cy="348.3" r="1.3" fill="#5bc8c0"/>
<circle cx="478.4" cy="350.3" r="1.3" fill="#5bc8c0"/>
<circle cx="480.3" cy="349.2" r="1.3" fill="#5bc8c0"/>
<circle cx="483.4" cy="348.8" r="1.3" fill="#5bc8c0"/>
<circle cx="482.6" cy="350.4" r="1.3" fill="#5bc8c0"/>
<circle cx="484.6" cy="348.2" r="1.3" fill="#5bc8c0"/>
<circle cx="484.7" cy="351.1" r="1.3" fill="#5bc8c0"/>
<circle cx="486.7" cy="350.2" r="1.3" fill="#5bc8c0"/>
<circle cx="488.0" cy="350.8" r="1.3" fill="#5bc8c0"/>
<line x1="467.3" y1="349.7" x2="488.5" y2="349.7" stroke="#111" stroke-width="2"/>
<ellipse cx="477.9" cy="349.7" rx="2" ry="1.6" fill="#222"/>
<circle cx="467.6" cy="396.5" r="1.3" fill="#5bc8c0"/>
<circle cx="468.4" cy="433.0" r="1.3" fill="#5bc8c0"/>
<circle cx="471.0" cy="431.8" r="1.3" fill="#5bc8c0"/>
<circle cx="473.0" cy="395.6" r="1.3" fill="#5bc8c0"/>
<circle cx="472.7" cy="433.0" r="1.3" fill="#5bc8c0"/>
<circle cx="473.9" cy="396.8" r="1.3" fill="#5bc8c0"/>
<circle cx="473.5" cy="432.6" r="1.3" fill="#5bc8c0"/>
<circle cx="476.2" cy="395.6" r="1.3" fill="#5bc8c0"/>
<circle cx="476.0" cy="432.0" r="1.3" fill="#5bc8c0"/>
<circle cx="476.8" cy="396.2" r="1.3" fill="#5bc8c0"/>
<circle cx="476.8" cy="431.9" r="1.3" fill="#5bc8c0"/>
<circle cx="478.7" cy="396.1" r="1.3" fill="#5bc8c0"/>
<circle cx="478.2" cy="432.6" r="1.3" fill="#5bc8c0"/>
<circle cx="479.8" cy="395.4" r="1.3" fill="#5bc8c0"/>
<circle cx="481.7" cy="432.6" r="1.3" fill="#5bc8c0"/>
<circle cx="482.8" cy="396.1" r="1.3" fill="#5bc8c0"/>
<circle cx="483.1" cy="433.0" r="1.3" fill="#5bc8c0"/>
<circle cx="484.2" cy="432.5" r="1.3" fill="#5bc8c0"/>
<circle cx="486.7" cy="396.9" r="1.3" fill="#5bc8c0"/>
<circle cx="486.7" cy="432.6" r="1.3" fill="#5bc8c0"/>
<circle cx="487.8" cy="396.4" r="1.3" fill="#5bc8c0"/>
<rect x="467.3" y="397.8" width="21.2" height="33.0" fill="#e7e6da" stroke="#222" stroke-width="1.3"/>
<ellipse cx="477.9" cy="396.4" rx="2" ry="1.1" fill="#111"/>
<ellipse cx="477.9" cy="432.2" rx="2" ry="1.1" fill="#111"/>
<rect x="476.2" y="408.8" width="3.4" height="3.4" fill="#f0f0ea" stroke="#8a8a8a" stroke-width="0.8"/>
<circle cx="500.0" cy="345.4" r="1.3" fill="#4a5568"/>
<circle cx="500.2" cy="347.4" r="1.3" fill="#4a5568"/>
<circle cx="501.9" cy="344.6" r="1.3" fill="#4a5568"/>
<circle cx="501.5" cy="347.0" r="1.3" fill="#4a5568"/>
<circle cx="502.4" cy="344.8" r="1.3" fill="#4a5568"/>
<circle cx="504.0" cy="345.3" r="1.3" fill="#4a5568"/>
<circle cx="504.4" cy="346.8" r="1.3" fill="#4a5568"/>
<circle cx="506.2" cy="345.4" r="1.3" fill="#4a5568"/>
<circle cx="506.3" cy="347.2" r="1.3" fill="#4a5568"/>
<circle cx="507.1" cy="345.2" r="1.3" fill="#4a5568"/>
<circle cx="507.5" cy="346.9" r="1.3" fill="#4a5568"/>
<circle cx="509.5" cy="345.6" r="1.3" fill="#4a5568"/>
<circle cx="510.4" cy="345.6" r="1.3" fill="#4a5568"/>
<circle cx="510.7" cy="346.9" r="1.3" fill="#4a5568"/>
<circle cx="512.2" cy="345.0" r="1.3" fill="#4a5568"/>
<circle cx="512.5" cy="347.2" r="1.3" fill="#4a5568"/>
<circle cx="513.6" cy="345.0" r="1.3" fill="#4a5568"/>
<circle cx="513.7" cy="347.1" r="1.3" fill="#4a5568"/>
<circle cx="515.3" cy="344.9" r="1.3" fill="#4a5568"/>
<circle cx="515.6" cy="346.8" r="1.3" fill="#4a5568"/>
<circle cx="517.1" cy="344.8" r="1.3" fill="#4a5568"/>
<circle cx="516.6" cy="347.2" r="1.3" fill="#4a5568"/>
<circle cx="520.0" cy="345.3" r="1.3" fill="#4a5568"/>
<circle cx="519.1" cy="346.6" r="1.3" fill="#4a5568"/>
<line x1="499.1" y1="346.1" x2="520.3" y2="346.1" stroke="#111" stroke-width="2"/>
<ellipse cx="509.7" cy="346.1" rx="2" ry="1.6" fill="#222"/>
<circle cx="499.4" cy="394.2" r="1.3" fill="#4a5568"/>
<circle cx="499.6" cy="405.3" r="1.3" fill="#4a5568"/>
<circle cx="501.5" cy="394.0" r="1.3" fill="#4a5568"/>
<circle cx="501.2" cy="406.1" r="1.3" fill="#4a5568"/>
<circle cx="502.6" cy="394.3" r="1.3" fill="#4a5568"/>
<circle cx="504.8" cy="395.2" r="1.3" fill="#4a5568"/>
<circle cx="505.9" cy="395.5" r="1.3" fill="#4a5568"/>
<circle cx="507.0" cy="394.7" r="1.3" fill="#4a5568"/>
<circle cx="507.5" cy="405.3" r="1.3" fill="#4a5568"/>
<circle cx="509.4" cy="405.0" r="1.3" fill="#4a5568"/>
<circle cx="511.0" cy="395.5" r="1.3" fill="#4a5568"/>
<circle cx="512.1" cy="394.0" r="1.3" fill="#4a5568"/>
<circle cx="511.6" cy="406.4" r="1.3" fill="#4a5568"/>
<circle cx="513.8" cy="395.7" r="1.3" fill="#4a5568"/>
<circle cx="513.9" cy="404.5" r="1.3" fill="#4a5568"/>
<circle cx="514.4" cy="406.2" r="1.3" fill="#4a5568"/>
<circle cx="516.3" cy="394.4" r="1.3" fill="#4a5568"/>
<circle cx="518.3" cy="405.8" r="1.3" fill="#4a5568"/>
<circle cx="519.6" cy="394.8" r="1.3" fill="#4a5568"/>
<circle cx="519.3" cy="406.2" r="1.3" fill="#4a5568"/>
<rect x="499.1" y="396.3" width="21.2" height="7.6" fill="#e7e6da" stroke="#222" stroke-width="1.3"/>
<ellipse cx="509.7" cy="394.9" rx="2" ry="1.1" fill="#111"/>
<ellipse cx="509.7" cy="405.4" rx="2" ry="1.1" fill="#111"/>
<rect x="508.0" y="397.3" width="3.4" height="3.4" fill="#f0f0ea" stroke="#8a8a8a" stroke-width="0.8"/>
<circle cx="531.6" cy="343.3" r="1.3" fill="#7fb0e0"/>
<circle cx="531.8" cy="345.6" r="1.3" fill="#7fb0e0"/>
<circle cx="532.8" cy="343.5" r="1.3" fill="#7fb0e0"/>
<circle cx="534.4" cy="345.4" r="1.3" fill="#7fb0e0"/>
<circle cx="535.9" cy="344.1" r="1.3" fill="#7fb0e0"/>
<circle cx="536.3" cy="345.6" r="1.3" fill="#7fb0e0"/>
<circle cx="537.3" cy="346.2" r="1.3" fill="#7fb0e0"/>
<circle cx="539.4" cy="343.3" r="1.3" fill="#7fb0e0"/>
<circle cx="538.8" cy="345.2" r="1.3" fill="#7fb0e0"/>
<circle cx="540.5" cy="346.2" r="1.3" fill="#7fb0e0"/>
<circle cx="541.8" cy="343.7" r="1.3" fill="#7fb0e0"/>
<circle cx="541.8" cy="345.4" r="1.3" fill="#7fb0e0"/>
<circle cx="543.8" cy="346.0" r="1.3" fill="#7fb0e0"/>
<circle cx="545.6" cy="344.2" r="1.3" fill="#7fb0e0"/>
<circle cx="545.2" cy="345.5" r="1.3" fill="#7fb0e0"/>
<circle cx="547.0" cy="343.4" r="1.3" fill="#7fb0e0"/>
<circle cx="546.6" cy="345.3" r="1.3" fill="#7fb0e0"/>
<circle cx="547.9" cy="343.4" r="1.3" fill="#7fb0e0"/>
<circle cx="548.2" cy="346.4" r="1.3" fill="#7fb0e0"/>
<circle cx="550.4" cy="344.2" r="1.3" fill="#7fb0e0"/>
<circle cx="549.6" cy="345.5" r="1.3" fill="#7fb0e0"/>
<circle cx="551.2" cy="344.2" r="1.3" fill="#7fb0e0"/>
<circle cx="551.6" cy="345.7" r="1.3" fill="#7fb0e0"/>
<line x1="531.0" y1="344.9" x2="552.2" y2="344.9" stroke="#111" stroke-width="2"/>
<ellipse cx="541.6" cy="344.9" rx="2" ry="1.6" fill="#222"/>
<circle cx="541.4" cy="415.2" r="1.3" fill="#7fb0e0"/>
<circle cx="542.8" cy="412.8" r="1.3" fill="#7fb0e0"/>
<circle cx="544.0" cy="414.6" r="1.3" fill="#7fb0e0"/>
<circle cx="540.4" cy="416.5" r="1.3" fill="#7fb0e0"/>
<circle cx="543.3" cy="414.1" r="1.3" fill="#7fb0e0"/>
<circle cx="538.2" cy="414.5" r="1.3" fill="#7fb0e0"/>
<line x1="541.6" y1="406.5" x2="541.6" y2="415.2" stroke="#111" stroke-width="1"/>
<line x1="539.6" y1="415.2" x2="543.6" y2="415.2" stroke="#111" stroke-width="1.2"/>
<circle cx="531.7" cy="397.2" r="1.3" fill="#7fb0e0"/>
<circle cx="531.8" cy="408.5" r="1.3" fill="#7fb0e0"/>
<circle cx="533.3" cy="395.8" r="1.3" fill="#7fb0e0"/>
<circle cx="533.2" cy="407.6" r="1.3" fill="#7fb0e0"/>
<circle cx="534.2" cy="395.7" r="1.3" fill="#7fb0e0"/>
<circle cx="535.3" cy="407.3" r="1.3" fill="#7fb0e0"/>
<circle cx="536.0" cy="396.7" r="1.3" fill="#7fb0e0"/>
<circle cx="536.4" cy="408.0" r="1.3" fill="#7fb0e0"/>
<circle cx="537.7" cy="395.8" r="1.3" fill="#7fb0e0"/>
<circle cx="537.7" cy="407.6" r="1.3" fill="#7fb0e0"/>
<circle cx="539.2" cy="397.3" r="1.3" fill="#7fb0e0"/>
<circle cx="539.3" cy="407.4" r="1.3" fill="#7fb0e0"/>
<circle cx="540.6" cy="407.6" r="1.3" fill="#7fb0e0"/>
<circle cx="542.3" cy="396.7" r="1.3" fill="#7fb0e0"/>
<circle cx="542.1" cy="408.0" r="1.3" fill="#7fb0e0"/>
<circle cx="543.9" cy="396.3" r="1.3" fill="#7fb0e0"/>
<circle cx="545.8" cy="396.1" r="1.3" fill="#7fb0e0"/>
<circle cx="545.1" cy="408.7" r="1.3" fill="#7fb0e0"/>
<circle cx="547.3" cy="396.2" r="1.3" fill="#7fb0e0"/>
<circle cx="547.4" cy="408.3" r="1.3" fill="#7fb0e0"/>
<circle cx="548.8" cy="407.4" r="1.3" fill="#7fb0e0"/>
<circle cx="549.9" cy="396.7" r="1.3" fill="#7fb0e0"/>
<circle cx="551.6" cy="396.1" r="1.3" fill="#7fb0e0"/>
<rect x="531.0" y="397.9" width="21.2" height="8.7" fill="#e7e6da" stroke="#222" stroke-width="1.3"/>
<ellipse cx="541.6" cy="396.5" rx="2" ry="1.1" fill="#111"/>
<ellipse cx="541.6" cy="407.9" rx="2" ry="1.1" fill="#111"/>
<rect x="539.9" y="401.8" width="3.4" height="3.4" fill="#f0f0ea" stroke="#8a8a8a" stroke-width="0.8"/>
<circle cx="563.7" cy="337.0" r="1.3" fill="#d9506a"/>
<circle cx="565.2" cy="335.3" r="1.3" fill="#d9506a"/>
<circle cx="566.5" cy="335.2" r="1.3" fill="#d9506a"/>
<circle cx="566.7" cy="337.2" r="1.3" fill="#d9506a"/>
<circle cx="568.1" cy="335.8" r="1.3" fill="#d9506a"/>
<circle cx="568.5" cy="336.9" r="1.3" fill="#d9506a"/>
<circle cx="570.0" cy="335.5" r="1.3" fill="#d9506a"/>
<circle cx="569.7" cy="337.2" r="1.3" fill="#d9506a"/>
<circle cx="571.5" cy="335.1" r="1.3" fill="#d9506a"/>
<circle cx="570.9" cy="337.2" r="1.3" fill="#d9506a"/>
<circle cx="572.9" cy="335.4" r="1.3" fill="#d9506a"/>
<circle cx="574.5" cy="335.2" r="1.3" fill="#d9506a"/>
<circle cx="574.7" cy="337.0" r="1.3" fill="#d9506a"/>
<circle cx="575.2" cy="337.9" r="1.3" fill="#d9506a"/>
<circle cx="576.9" cy="335.7" r="1.3" fill="#d9506a"/>
<circle cx="577.5" cy="337.4" r="1.3" fill="#d9506a"/>
<circle cx="578.2" cy="335.3" r="1.3" fill="#d9506a"/>
<circle cx="578.4" cy="336.9" r="1.3" fill="#d9506a"/>
<circle cx="582.0" cy="335.6" r="1.3" fill="#d9506a"/>
<circle cx="583.4" cy="337.9" r="1.3" fill="#d9506a"/>
<line x1="562.8" y1="336.4" x2="584.0" y2="336.4" stroke="#111" stroke-width="2"/>
<ellipse cx="573.4" cy="336.4" rx="2" ry="1.6" fill="#222"/>
<circle cx="572.9" cy="364.1" r="1.3" fill="#d9506a"/>
<circle cx="572.1" cy="364.1" r="1.3" fill="#d9506a"/>
<circle cx="571.8" cy="366.4" r="1.3" fill="#d9506a"/>
<circle cx="571.8" cy="365.0" r="1.3" fill="#d9506a"/>
<circle cx="570.6" cy="365.4" r="1.3" fill="#d9506a"/>
<circle cx="573.5" cy="366.4" r="1.3" fill="#d9506a"/>
<line x1="573.4" y1="371.6" x2="573.4" y2="365.5" stroke="#111" stroke-width="1"/>
<line x1="571.4" y1="365.5" x2="575.4" y2="365.5" stroke="#111" stroke-width="1.2"/>
<circle cx="564.1" cy="370.6" r="1.3" fill="#d9506a"/>
<circle cx="565.3" cy="369.6" r="1.3" fill="#d9506a"/>
<circle cx="566.4" cy="370.4" r="1.3" fill="#d9506a"/>
<circle cx="566.9" cy="388.1" r="1.3" fill="#d9506a"/>
<circle cx="567.8" cy="370.3" r="1.3" fill="#d9506a"/>
<circle cx="567.7" cy="388.6" r="1.3" fill="#d9506a"/>
<circle cx="569.5" cy="369.5" r="1.3" fill="#d9506a"/>
<circle cx="571.7" cy="387.6" r="1.3" fill="#d9506a"/>
<circle cx="572.1" cy="369.5" r="1.3" fill="#d9506a"/>
<circle cx="572.9" cy="388.6" r="1.3" fill="#d9506a"/>
<circle cx="573.7" cy="369.2" r="1.3" fill="#d9506a"/>
<circle cx="573.8" cy="389.2" r="1.3" fill="#d9506a"/>
<circle cx="575.8" cy="370.7" r="1.3" fill="#d9506a"/>
<circle cx="577.6" cy="369.7" r="1.3" fill="#d9506a"/>
<circle cx="577.5" cy="389.0" r="1.3" fill="#d9506a"/>
<circle cx="578.5" cy="371.1" r="1.3" fill="#d9506a"/>
<circle cx="578.9" cy="387.6" r="1.3" fill="#d9506a"/>
<circle cx="579.6" cy="370.7" r="1.3" fill="#d9506a"/>
<circle cx="580.5" cy="388.7" r="1.3" fill="#d9506a"/>
<circle cx="581.7" cy="369.5" r="1.3" fill="#d9506a"/>
<circle cx="581.6" cy="388.8" r="1.3" fill="#d9506a"/>
<circle cx="583.1" cy="369.3" r="1.3" fill="#d9506a"/>
<circle cx="583.5" cy="388.5" r="1.3" fill="#d9506a"/>
<rect x="562.8" y="371.6" width="21.2" height="15.4" fill="#e7e6da" stroke="#222" stroke-width="1.3"/>
<ellipse cx="573.4" cy="370.2" rx="2" ry="1.1" fill="#111"/>
<ellipse cx="573.4" cy="388.4" rx="2" ry="1.1" fill="#111"/>
<rect x="571.7" y="376.3" width="3.4" height="3.4" fill="#f0f0ea" stroke="#8a8a8a" stroke-width="0.8"/>
<circle cx="595.6" cy="333.0" r="1.3" fill="#3cb88a"/>
<circle cx="598.8" cy="332.7" r="1.3" fill="#3cb88a"/>
<circle cx="600.3" cy="332.1" r="1.3" fill="#3cb88a"/>
<circle cx="601.9" cy="331.6" r="1.3" fill="#3cb88a"/>
<circle cx="602.0" cy="339.5" r="1.3" fill="#3cb88a"/>
<circle cx="602.6" cy="332.3" r="1.3" fill="#3cb88a"/>
<circle cx="603.5" cy="340.8" r="1.3" fill="#3cb88a"/>
<circle cx="604.1" cy="331.8" r="1.3" fill="#3cb88a"/>
<circle cx="605.7" cy="331.3" r="1.3" fill="#3cb88a"/>
<circle cx="605.5" cy="339.8" r="1.3" fill="#3cb88a"/>
<circle cx="607.8" cy="331.8" r="1.3" fill="#3cb88a"/>
<circle cx="608.4" cy="331.6" r="1.3" fill="#3cb88a"/>
<circle cx="610.9" cy="331.5" r="1.3" fill="#3cb88a"/>
<circle cx="610.6" cy="340.0" r="1.3" fill="#3cb88a"/>
<circle cx="612.5" cy="332.2" r="1.3" fill="#3cb88a"/>
<circle cx="612.5" cy="341.0" r="1.3" fill="#3cb88a"/>
<circle cx="613.5" cy="333.0" r="1.3" fill="#3cb88a"/>
<circle cx="613.2" cy="340.5" r="1.3" fill="#3cb88a"/>
<circle cx="615.1" cy="331.9" r="1.3" fill="#3cb88a"/>
<circle cx="614.6" cy="339.5" r="1.3" fill="#3cb88a"/>
<rect x="594.6" y="333.6" width="21.2" height="5.4" fill="#e7e6da" stroke="#222" stroke-width="1.3"/>
<ellipse cx="605.2" cy="332.2" rx="2" ry="1.1" fill="#111"/>
<ellipse cx="605.2" cy="340.4" rx="2" ry="1.1" fill="#111"/>
<rect x="603.5" y="334.5" width="3.4" height="3.4" fill="#f0f0ea" stroke="#8a8a8a" stroke-width="0.8"/>
<circle cx="595.4" cy="381.8" r="1.3" fill="#3cb88a"/>
<circle cx="596.9" cy="382.0" r="1.3" fill="#3cb88a"/>
<circle cx="596.7" cy="395.8" r="1.3" fill="#3cb88a"/>
<circle cx="599.0" cy="383.5" r="1.3" fill="#3cb88a"/>
<circle cx="600.4" cy="383.4" r="1.3" fill="#3cb88a"/>
<circle cx="599.7" cy="394.9" r="1.3" fill="#3cb88a"/>
<circle cx="601.9" cy="382.3" r="1.3" fill="#3cb88a"/>
<circle cx="601.7" cy="395.5" r="1.3" fill="#3cb88a"/>
<circle cx="603.1" cy="382.6" r="1.3" fill="#3cb88a"/>
<circle cx="604.2" cy="382.7" r="1.3" fill="#3cb88a"/>
<circle cx="604.6" cy="396.3" r="1.3" fill="#3cb88a"/>
<circle cx="605.6" cy="382.7" r="1.3" fill="#3cb88a"/>
<circle cx="605.6" cy="395.4" r="1.3" fill="#3cb88a"/>
<circle cx="607.3" cy="381.7" r="1.3" fill="#3cb88a"/>
<circle cx="608.1" cy="395.3" r="1.3" fill="#3cb88a"/>
<circle cx="609.5" cy="383.4" r="1.3" fill="#3cb88a"/>
<circle cx="610.5" cy="383.4" r="1.3" fill="#3cb88a"/>
<circle cx="612.1" cy="394.9" r="1.3" fill="#3cb88a"/>
<circle cx="613.3" cy="382.9" r="1.3" fill="#3cb88a"/>
<circle cx="613.0" cy="396.3" r="1.3" fill="#3cb88a"/>
<circle cx="614.9" cy="395.6" r="1.3" fill="#3cb88a"/>
<rect x="594.6" y="384.1" width="21.2" height="9.9" fill="#e7e6da" stroke="#222" stroke-width="1.3"/>
<ellipse cx="605.2" cy="382.7" rx="2" ry="1.1" fill="#111"/>
<ellipse cx="605.2" cy="395.5" rx="2" ry="1.1" fill="#111"/>
<rect x="603.5" y="386.6" width="3.4" height="3.4" fill="#f0f0ea" stroke="#8a8a8a" stroke-width="0.8"/>
<circle cx="627.6" cy="339.4" r="1.3" fill="#f8c860"/>
<circle cx="628.6" cy="339.6" r="1.3" fill="#f8c860"/>
<circle cx="629.2" cy="349.9" r="1.3" fill="#f8c860"/>
<circle cx="629.8" cy="339.2" r="1.3" fill="#f8c860"/>
<circle cx="629.8" cy="349.8" r="1.3" fill="#f8c860"/>
<circle cx="631.7" cy="338.8" r="1.3" fill="#f8c860"/>
<circle cx="631.5" cy="350.1" r="1.3" fill="#f8c860"/>
<circle cx="633.4" cy="339.3" r="1.3" fill="#f8c860"/>
<circle cx="633.6" cy="349.2" r="1.3" fill="#f8c860"/>
<circle cx="635.0" cy="339.5" r="1.3" fill="#f8c860"/>
<circle cx="635.3" cy="349.7" r="1.3" fill="#f8c860"/>
<circle cx="636.4" cy="340.0" r="1.3" fill="#f8c860"/>
<circle cx="636.5" cy="349.7" r="1.3" fill="#f8c860"/>
<circle cx="637.8" cy="338.8" r="1.3" fill="#f8c860"/>
<circle cx="638.4" cy="350.4" r="1.3" fill="#f8c860"/>
<circle cx="639.3" cy="340.3" r="1.3" fill="#f8c860"/>
<circle cx="639.8" cy="349.2" r="1.3" fill="#f8c860"/>
<circle cx="640.6" cy="339.8" r="1.3" fill="#f8c860"/>
<circle cx="640.6" cy="349.4" r="1.3" fill="#f8c860"/>
<circle cx="642.9" cy="350.0" r="1.3" fill="#f8c860"/>
<circle cx="644.1" cy="339.6" r="1.3" fill="#f8c860"/>
<circle cx="643.5" cy="349.9" r="1.3" fill="#f8c860"/>
<circle cx="645.2" cy="340.3" r="1.3" fill="#f8c860"/>
<circle cx="647.4" cy="339.1" r="1.3" fill="#f8c860"/>
<circle cx="647.2" cy="349.8" r="1.3" fill="#f8c860"/>
<rect x="626.5" y="340.9" width="21.2" height="7.3" fill="#e7e6da" stroke="#222" stroke-width="1.3"/>
<ellipse cx="637.1" cy="339.5" rx="2" ry="1.1" fill="#111"/>
<ellipse cx="637.1" cy="349.6" rx="2" ry="1.1" fill="#111"/>
<rect x="635.4" y="343.2" width="3.4" height="3.4" fill="#f0f0ea" stroke="#8a8a8a" stroke-width="0.8"/>
<circle cx="634.9" cy="386.0" r="1.3" fill="#f8c860"/>
<circle cx="633.8" cy="386.3" r="1.3" fill="#f8c860"/>
<circle cx="639.5" cy="387.5" r="1.3" fill="#f8c860"/>
<circle cx="639.1" cy="389.0" r="1.3" fill="#f8c860"/>
<circle cx="634.6" cy="388.6" r="1.3" fill="#f8c860"/>
<circle cx="639.8" cy="387.8" r="1.3" fill="#f8c860"/>
<line x1="637.1" y1="391.6" x2="637.1" y2="386.7" stroke="#111" stroke-width="1"/>
<line x1="635.1" y1="386.7" x2="639.1" y2="386.7" stroke="#111" stroke-width="1.2"/>
<circle cx="635.9" cy="413.7" r="1.3" fill="#f8c860"/>
<circle cx="636.6" cy="414.5" r="1.3" fill="#f8c860"/>
<circle cx="635.4" cy="415.7" r="1.3" fill="#f8c860"/>
<circle cx="638.0" cy="414.0" r="1.3" fill="#f8c860"/>
<circle cx="634.8" cy="415.0" r="1.3" fill="#f8c860"/>
<circle cx="638.5" cy="415.6" r="1.3" fill="#f8c860"/>
<line x1="637.1" y1="410.4" x2="637.1" y2="415.5" stroke="#111" stroke-width="1"/>
<line x1="635.1" y1="415.5" x2="639.1" y2="415.5" stroke="#111" stroke-width="1.2"/>
<circle cx="627.6" cy="412.3" r="1.3" fill="#f8c860"/>
<circle cx="629.0" cy="390.8" r="1.3" fill="#f8c860"/>
<circle cx="628.6" cy="412.3" r="1.3" fill="#f8c860"/>
<circle cx="630.1" cy="391.0" r="1.3" fill="#f8c860"/>
<circle cx="630.4" cy="412.3" r="1.3" fill="#f8c860"/>
<circle cx="632.2" cy="389.3" r="1.3" fill="#f8c860"/>
<circle cx="633.9" cy="390.6" r="1.3" fill="#f8c860"/>
<circle cx="635.2" cy="412.3" r="1.3" fill="#f8c860"/>
<circle cx="636.1" cy="390.3" r="1.3" fill="#f8c860"/>
<circle cx="636.6" cy="411.9" r="1.3" fill="#f8c860"/>
<circle cx="637.9" cy="390.2" r="1.3" fill="#f8c860"/>
<circle cx="637.7" cy="411.7" r="1.3" fill="#f8c860"/>
<circle cx="639.6" cy="390.8" r="1.3" fill="#f8c860"/>
<circle cx="638.8" cy="412.5" r="1.3" fill="#f8c860"/>
<circle cx="641.0" cy="389.4" r="1.3" fill="#f8c860"/>
<circle cx="641.2" cy="411.3" r="1.3" fill="#f8c860"/>
<circle cx="642.4" cy="390.0" r="1.3" fill="#f8c860"/>
<circle cx="641.8" cy="412.2" r="1.3" fill="#f8c860"/>
<circle cx="643.6" cy="389.7" r="1.3" fill="#f8c860"/>
<circle cx="645.4" cy="411.4" r="1.3" fill="#f8c860"/>
<circle cx="646.5" cy="412.6" r="1.3" fill="#f8c860"/>
<rect x="626.5" y="391.6" width="21.2" height="18.7" fill="#e7e6da" stroke="#222" stroke-width="1.3"/>
<ellipse cx="637.1" cy="390.2" rx="2" ry="1.1" fill="#111"/>
<ellipse cx="637.1" cy="411.8" rx="2" ry="1.1" fill="#111"/>
<rect x="635.4" y="398.0" width="3.4" height="3.4" fill="#f0f0ea" stroke="#8a8a8a" stroke-width="0.8"/>
<polyline points="63.2,387.9 95.0,395.6 126.8,377.2 158.7,347.2 190.5,358.4 222.3,370.1 254.2,366.0 286.0,370.9 317.9,384.9 349.7,379.8 381.5,338.2 413.4,343.6 445.2,348.5 477.1,372.9 508.9,381.3 540.8,372.9 572.6,390.5 604.4,379.8 636.3,373.9" fill="none" stroke="#000" stroke-width="1.25" stroke-dasharray="1.25,1.15"/>
<circle cx="63.2" cy="387.9" r="3.9" fill="url(#gPink)"/>
<circle cx="95.0" cy="395.6" r="3.9" fill="url(#gPink)"/>
<circle cx="126.8" cy="377.2" r="3.9" fill="url(#gPink)"/>
<circle cx="158.7" cy="347.2" r="3.9" fill="url(#gPink)"/>
<circle cx="190.5" cy="358.4" r="3.9" fill="url(#gPink)"/>
<circle cx="222.3" cy="370.1" r="3.9" fill="url(#gPink)"/>
<circle cx="254.2" cy="366.0" r="3.9" fill="url(#gPink)"/>
<circle cx="286.0" cy="370.9" r="3.9" fill="url(#gPink)"/>
<circle cx="317.9" cy="384.9" r="3.9" fill="url(#gPink)"/>
<circle cx="349.7" cy="379.8" r="3.9" fill="url(#gPink)"/>
<circle cx="381.5" cy="338.2" r="3.9" fill="url(#gPink)"/>
<circle cx="413.4" cy="343.6" r="3.9" fill="url(#gPink)"/>
<circle cx="445.2" cy="348.5" r="3.9" fill="url(#gPink)"/>
<circle cx="477.1" cy="372.9" r="3.9" fill="url(#gPink)"/>
<circle cx="508.9" cy="381.3" r="3.9" fill="url(#gPink)"/>
<circle cx="540.8" cy="372.9" r="3.9" fill="url(#gPink)"/>
<circle cx="572.6" cy="390.5" r="3.9" fill="url(#gPink)"/>
<circle cx="604.4" cy="379.8" r="3.9" fill="url(#gPink)"/>
<circle cx="636.3" cy="373.9" r="3.9" fill="url(#gPink)"/>
<path transform="translate(0,0)" d="M86.4,417.6 C86.6,415.9 89,415.5 90.2,416.7 C91,417.5 91.6,418.8 92.3,420.2 C95,414.5 100,409.5 104.6,406.2 C105.6,405.6 106.4,406.6 105.8,407.4 C101,411.5 96,417 92.6,424 C92,424.8 90.6,424.8 90.2,423.8 C89.4,421 88.4,418.8 86.4,417.6 Z" fill="#ff3322"/>
<path transform="translate(477.4,-1)" d="M86.4,417.6 C86.6,415.9 89,415.5 90.2,416.7 C91,417.5 91.6,418.8 92.3,420.2 C95,414.5 100,409.5 104.6,406.2 C105.6,405.6 106.4,406.6 105.8,407.4 C101,411.5 96,417 92.6,424 C92,424.8 90.6,424.8 90.2,423.8 C89.4,421 88.4,418.8 86.4,417.6 Z" fill="#ff3322"/>
<rect x="463.4" y="300.9" width="25.2" height="12" fill="#e8e7da" stroke="#2a2a2a" stroke-width="1.2"/>
<text x="491.8" y="311.3" font-size="11.6">25%~75%</text>
<rect x="474.3" y="319.5" width="3" height="3" fill="none" stroke="#555" stroke-width="0.8"/>
<text x="491.8" y="325.4" font-size="11.6">Average</text>
<path d="M554.4,301.1 H562.4 M558.4,301.1 V312.6 M554.4,312.6 H562.4" stroke="#333" stroke-width="1.1" fill="none"/>
<text x="575.2" y="311.3" font-size="11.6">Range within 1.5IQR</text>
<circle cx="559.1" cy="323.7" r="3.9" fill="url(#gPink)"/>
<text x="576.4" y="328" font-size="13" font-style="italic">T</text><text x="583.6" y="331" font-size="9">gap</text>
<text x="654" y="295" font-size="13.5" font-style="italic">T</text><text x="662.4" y="298.4" font-size="8.4">1bar</text>
<text x="653.6" y="451.3" font-size="13.5" font-style="italic">T</text><text x="662" y="454.8" font-size="8.6">cr</text>
</svg></body></html>
